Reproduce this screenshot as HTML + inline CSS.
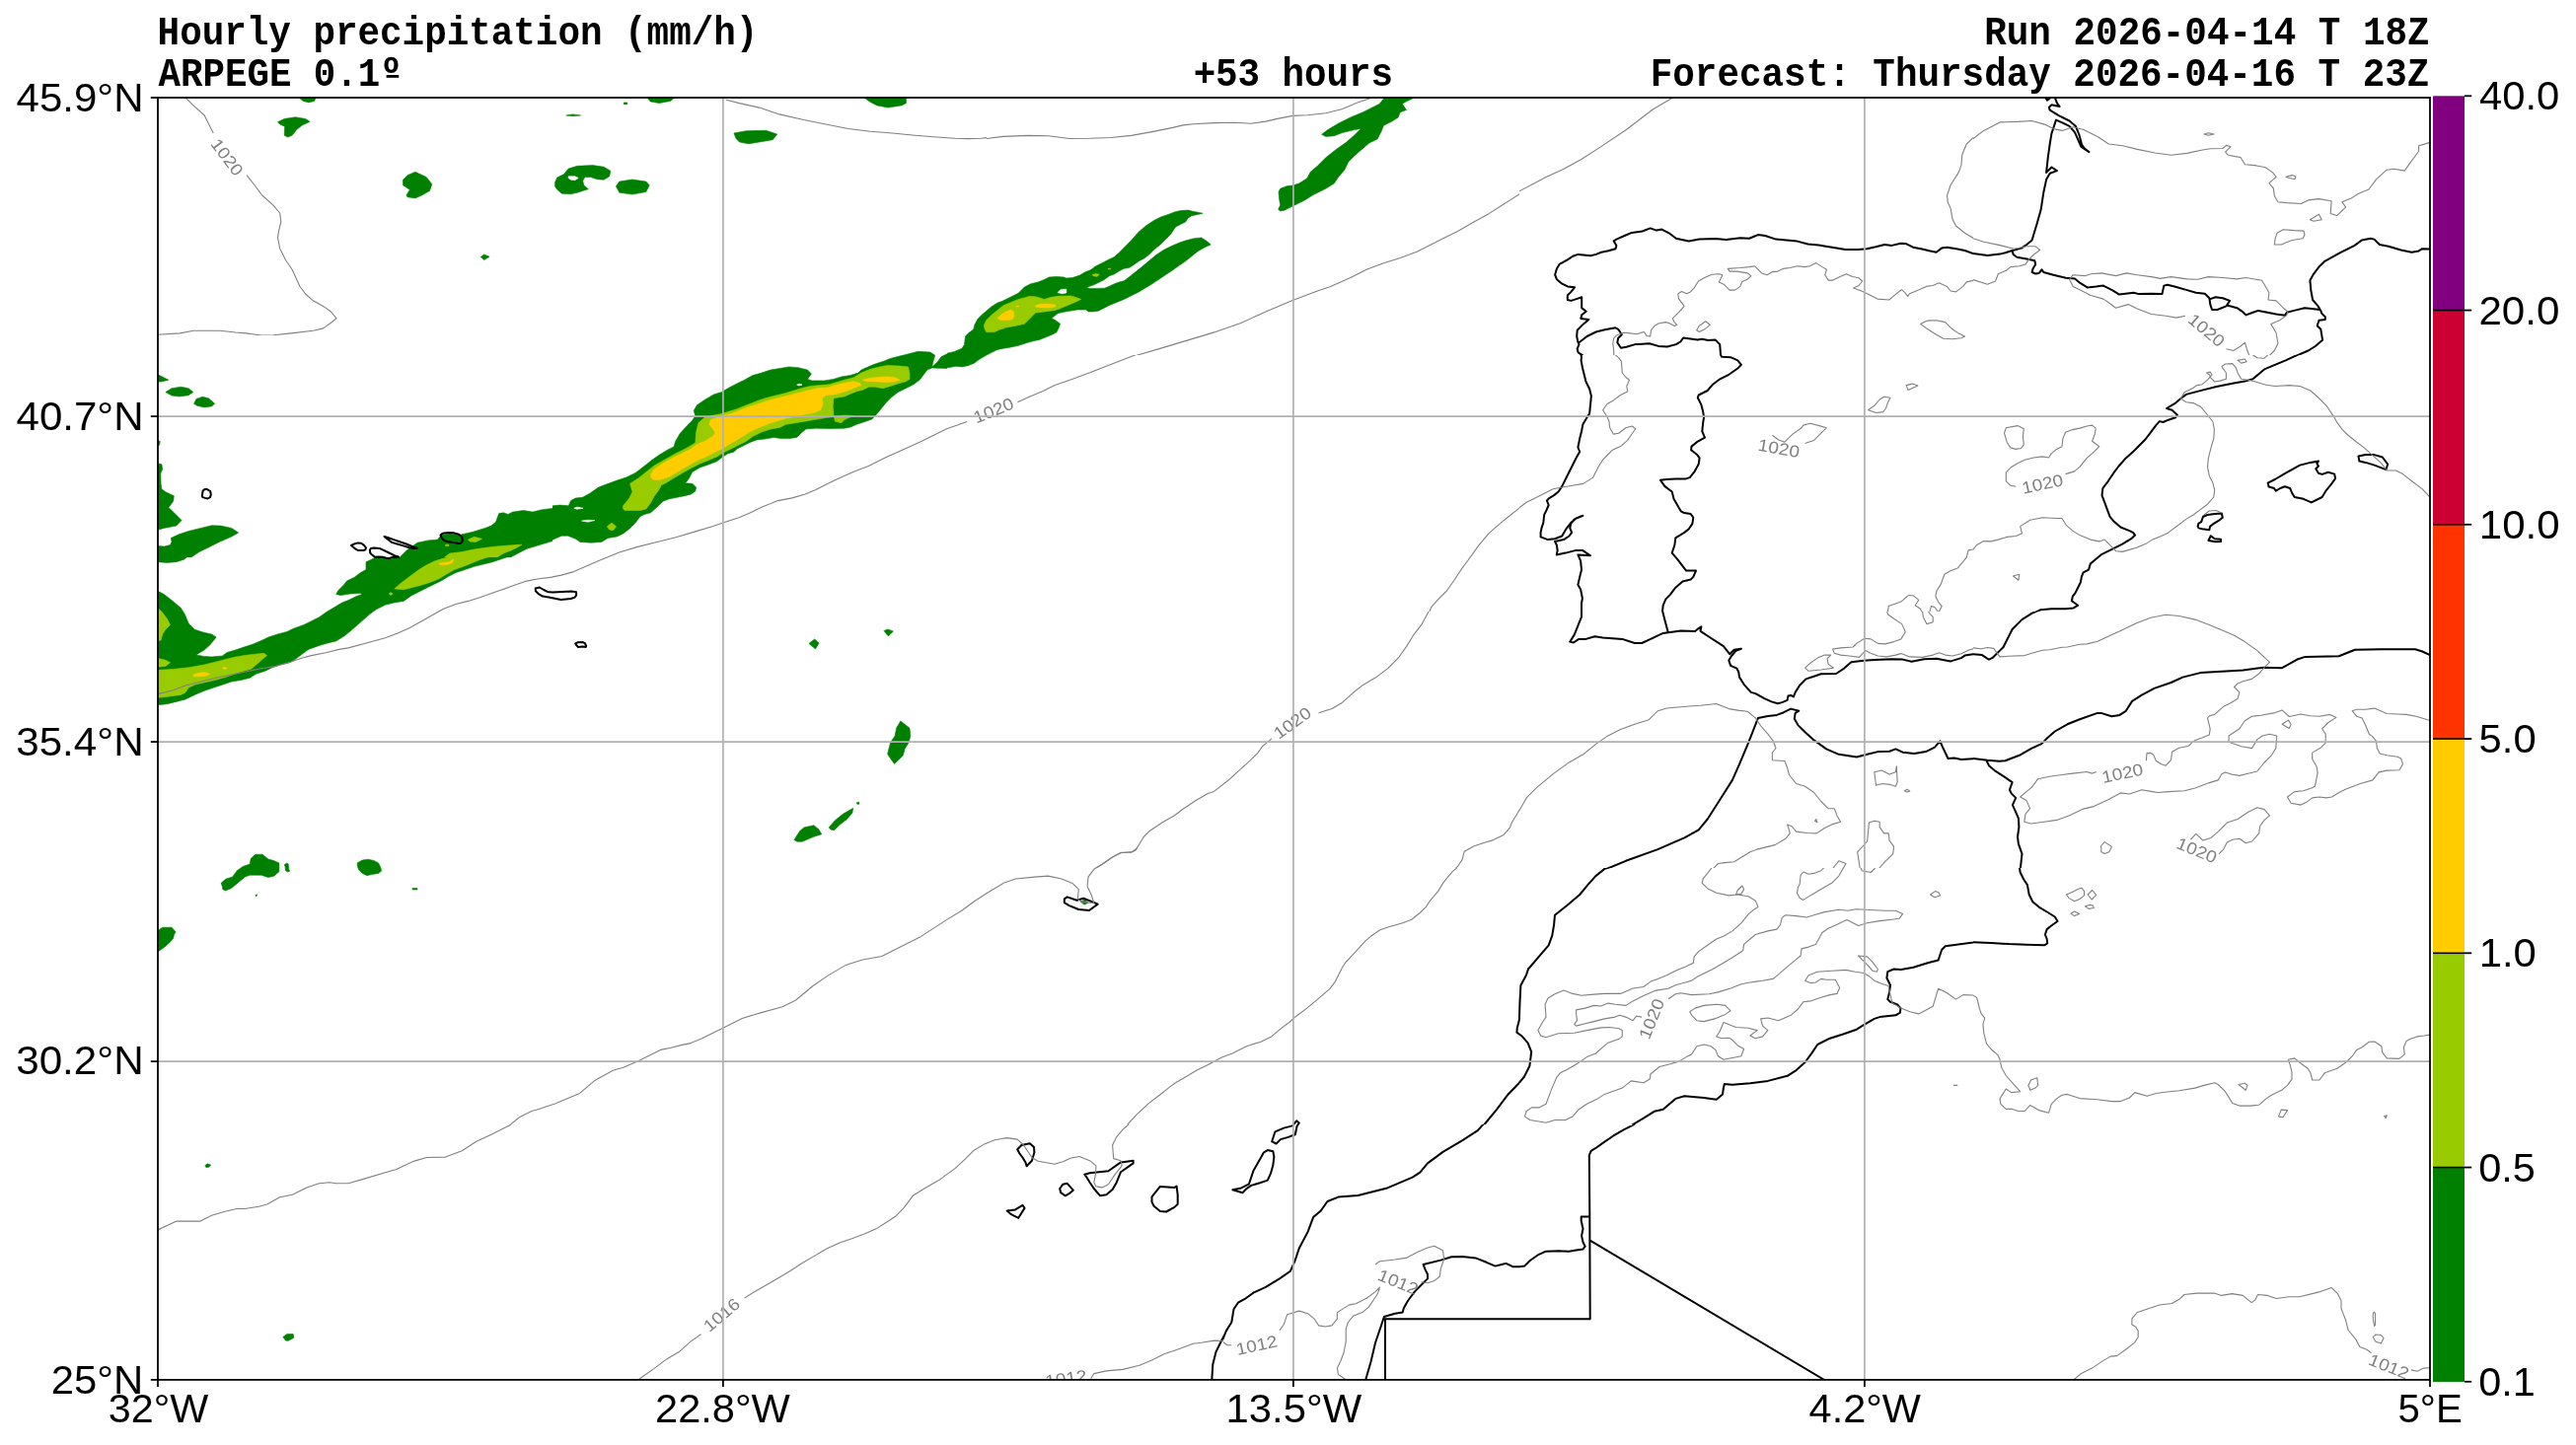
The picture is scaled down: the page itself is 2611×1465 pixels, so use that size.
<!DOCTYPE html>
<html><head><meta charset="utf-8"><title>Hourly precipitation</title>
<style>html,body{margin:0;padding:0;background:#fff;width:2611px;height:1465px;overflow:hidden}svg{display:block;will-change:transform}</style>
</head><body><svg xmlns="http://www.w3.org/2000/svg" width="2611" height="1465" viewBox="0 0 2611 1465"><defs><clipPath id="mc"><rect x="160.0" y="99.0" width="2303.0" height="1299.9"/></clipPath></defs><g clip-path="url(#mc)"><defs><clipPath id="pc0"><rect x="160" y="99" width="576" height="241"/></clipPath><clipPath id="pc1"><rect x="736" y="99" width="576" height="101"/><rect x="736" y="200" width="224" height="140"/><rect x="1240" y="200" width="72" height="140"/></clipPath><clipPath id="pc2"><rect x="1240" y="99" width="300" height="261"/></clipPath><clipPath id="pc3"><rect x="960" y="200" width="280" height="180"/></clipPath><clipPath id="pc4"><rect x="160" y="565" width="400" height="225"/></clipPath><clipPath id="pc5"><rect x="560" y="340" width="400" height="225"/></clipPath><clipPath id="pc6"><rect x="160" y="840" width="300" height="160"/></clipPath><clipPath id="pc7"><rect x="180" y="1150" width="140" height="220"/></clipPath><clipPath id="pc8"><rect x="160" y="340" width="400" height="225"/></clipPath><clipPath id="pc9"><rect x="1080" y="900" width="40" height="30"/></clipPath><clipPath id="pc10"><rect x="780" y="620" width="180" height="240"/></clipPath></defs><g clip-path="url(#pc0)"><path fill="#008000" stroke="#008000" stroke-width="0.6" d="M301.7,97.9 L320.8,97.9 L318.6,102.4 L312.9,103.9 L307.3,102.4Z M281.5,123.7 L288.2,120.4 L299.4,118.8 L309.6,120.4 L314.1,123.3 L306.2,127.1 L300.6,131.6 L296.1,137.2 L291.6,139.0 L288.2,137.2 L288.6,128.2 L283.7,126.0Z M408.5,182.2 L413.0,177.7 L420.9,174.3 L432.1,179.5 L437.8,186.7 L435.5,193.5 L427.6,198.0 L420.9,200.9 L413.0,199.8 L411.9,198.0 L415.3,192.3 L408.5,187.8Z M487.2,260.5 L490.6,258.0 L496.2,260.3 L490.6,263.6Z M562.6,184.5 L564.8,180.0 L571.6,176.6 L576.1,171.0 L585.1,168.3 L600.8,167.6 L612.1,169.2 L618.8,173.2 L617.7,178.8 L612.1,182.2 L605.3,181.8 L598.6,179.5 L593.0,179.5 L590.7,183.3 L591.8,187.8 L596.3,191.7 L590.7,193.5 L585.1,195.3 L578.3,196.8 L569.3,196.2 L564.8,192.3 L562.6,189.0Z M624.4,189.0 L627.8,184.0 L640.9,182.0 L654.8,184.0 L658.2,187.8 L654.8,194.6 L640.9,197.1 L627.8,195.3Z M654.8,97.9 L685.2,97.9 L679.5,102.4 L668.3,104.6 L659.3,103.0Z M573.8,117.0 L580.6,115.9 L588.5,117.0 L580.6,117.7Z M632.3,103.9 L635.7,103.9 L635.7,105.7 L632.3,105.7Z"/><path fill="#ffffff" stroke="#ffffff" stroke-width="0.6" d="M576.1,178.8 L582.8,178.8 L586.2,180.4 L582.8,182.7 L578.3,182.2 L576.1,180.4Z"/></g><g clip-path="url(#pc1)"><path fill="#008000" stroke="#008000" stroke-width="0.6" d="M874.3,97.9 L918.2,97.9 L918.6,104.6 L913.7,106.9 L900.2,109.1 L888.9,106.9 L882.2,103.5Z M743.9,135.0 L756.2,132.7 L776.5,132.3 L787.7,136.1 L783.2,141.7 L769.7,144.0 L758.5,145.8 L749.5,144.0 L746.1,140.6Z"/></g><g clip-path="url(#pc2)"><path fill="#008000" stroke="#008000" stroke-width="0.6" d="M1295.6,212.2 L1297.7,208.0 L1296.6,201.7 L1296.0,194.4 L1297.7,191.2 L1304.0,188.7 L1310.2,188.1 L1316.5,186.0 L1324.9,180.8 L1328.1,174.5 L1335.4,168.2 L1343.8,159.8 L1354.3,151.4 L1364.8,144.1 L1373.1,136.7 L1379.4,130.4 L1373.1,131.5 L1360.6,134.6 L1352.2,137.8 L1343.8,138.4 L1339.6,136.3 L1345.9,131.5 L1356.4,125.2 L1368.9,118.9 L1381.5,113.7 L1392.0,108.4 L1398.3,105.3 L1402.5,100.0 L1403.5,97.3 L1433.9,97.3 L1431.8,100.0 L1425.5,102.8 L1421.4,105.3 L1425.5,111.6 L1419.3,113.7 L1417.2,118.9 L1410.9,123.1 L1402.5,127.3 L1400.4,132.5 L1396.2,140.9 L1387.8,145.1 L1381.5,150.4 L1373.1,157.7 L1366.8,164.0 L1362.7,172.4 L1356.4,179.7 L1352.2,186.0 L1343.8,191.2 L1331.2,197.5 L1322.8,202.8 L1314.4,207.0 L1308.2,210.1 L1301.9,213.2 L1297.7,213.9Z"/></g><g clip-path="url(#pc3)"><path fill="#008000" stroke="#008000" stroke-width="0.6" d="M940.0,357.6 L943.7,358.2 L947.5,360.1 L946.2,365.7 L945.0,370.1 L949.3,369.4 L951.2,364.5 L955.0,360.7 L959.9,358.2 L967.4,356.4 L974.9,353.2 L977.4,349.5 L978.6,340.8 L982.4,337.0 L986.7,333.9 L988.0,328.9 L991.1,323.3 L994.8,319.6 L999.8,315.2 L1004.8,310.9 L1011.0,307.1 L1016.0,305.3 L1022.2,302.2 L1027.2,299.7 L1032.2,297.2 L1038.4,290.9 L1044.7,287.8 L1052.1,286.0 L1058.4,283.5 L1063.3,281.0 L1070.8,280.4 L1078.3,281.0 L1080.8,282.0 L1087.0,281.6 L1094.5,279.1 L1099.5,276.0 L1105.7,273.5 L1110.7,269.8 L1116.9,266.7 L1123.1,263.5 L1129.4,260.4 L1133.1,257.3 L1139.3,251.1 L1146.8,243.6 L1154.3,234.9 L1161.8,228.7 L1169.2,223.7 L1176.7,219.9 L1184.2,217.4 L1190.4,215.0 L1196.6,213.5 L1204.1,213.1 L1209.1,214.3 L1219.1,216.2 L1214.1,217.4 L1207.9,218.7 L1204.1,221.2 L1201.6,224.9 L1196.6,227.4 L1191.7,229.9 L1189.2,233.6 L1186.7,237.4 L1181.7,242.4 L1175.5,248.6 L1169.2,253.6 L1164.3,258.6 L1159.3,262.3 L1154.3,264.8 L1149.3,268.5 L1144.3,271.6 L1139.3,272.3 L1134.4,274.8 L1129.4,277.9 L1124.4,279.7 L1119.4,283.5 L1114.4,286.0 L1109.4,288.5 L1104.5,290.3 L1101.3,291.6 L1104.5,292.4 L1111.9,292.4 L1119.4,292.2 L1124.4,290.3 L1129.4,287.8 L1134.4,286.0 L1139.3,284.7 L1144.3,281.0 L1150.5,276.0 L1156.8,271.0 L1164.3,264.8 L1171.7,258.6 L1179.2,253.6 L1186.7,249.8 L1195.4,246.1 L1202.9,243.6 L1210.3,241.7 L1217.8,240.9 L1222.8,244.2 L1227.2,248.0 L1221.6,250.5 L1214.1,254.8 L1207.9,259.8 L1201.6,264.8 L1195.4,269.1 L1189.2,273.5 L1181.7,278.5 L1174.2,283.5 L1166.7,288.5 L1160.5,292.2 L1154.3,295.9 L1146.8,299.7 L1139.3,303.4 L1131.9,306.5 L1124.4,309.6 L1118.2,312.7 L1113.2,315.2 L1108.2,315.9 L1103.2,315.9 L1100.7,314.0 L1092.0,314.0 L1084.5,315.2 L1077.0,316.5 L1072.1,317.7 L1068.3,320.8 L1065.8,322.7 L1069.6,324.6 L1074.6,328.3 L1073.3,332.1 L1070.8,337.0 L1065.8,339.5 L1059.6,342.0 L1053.4,344.5 L1047.1,345.8 L1040.9,347.6 L1033.4,350.1 L1024.7,352.0 L1017.2,353.2 L1011.0,354.5 L1004.8,357.6 L998.6,360.7 L992.3,364.5 L987.3,368.2 L981.1,370.7 L974.9,371.9 L968.7,371.3 L962.4,372.5 L956.2,373.2 L948.7,373.8 L943.7,373.8 L940.0,376.9Z"/><path fill="#99cc00" stroke="#99cc00" stroke-width="0.6" d="M997.3,329.6 L999.8,324.6 L1004.8,319.6 L1011.0,314.6 L1017.2,309.6 L1024.7,306.5 L1032.2,303.4 L1039.7,301.5 L1043.4,300.3 L1050.9,300.9 L1058.4,303.4 L1064.6,301.5 L1072.1,300.3 L1085.8,299.9 L1090.7,301.5 L1095.7,303.4 L1089.5,306.5 L1082.0,309.6 L1074.6,312.7 L1069.6,314.4 L1059.6,315.9 L1049.6,317.1 L1044.7,322.1 L1038.4,328.3 L1029.7,330.2 L1019.7,332.1 L1012.3,334.6 L1008.5,336.4 L999.8,336.8 L997.9,333.3Z M1106.9,278.5 L1110.7,277.5 L1114.4,278.2 L1111.9,280.4 L1108.2,279.7Z M1123.1,272.3 L1125.6,272.0 L1125.6,272.9 L1123.1,272.9Z"/><path fill="#ffcc00" stroke="#ffcc00" stroke-width="0.6" d="M1011.0,322.7 L1014.8,319.0 L1019.7,315.9 L1024.7,314.0 L1027.2,315.9 L1027.8,320.8 L1026.0,324.0 L1019.7,324.6 L1014.8,324.6Z M1049.0,310.3 L1053.4,308.6 L1060.8,308.1 L1069.6,309.0 L1069.6,310.9 L1063.3,311.9 L1055.9,311.9 L1050.9,311.3Z M1029.7,310.6 L1032.8,310.3 L1032.2,311.1Z"/><path fill="#ffffff" stroke="#ffffff" stroke-width="0.6" d="M1072.1,296.6 L1075.2,293.4 L1080.8,293.2 L1080.8,296.9 L1076.4,297.8Z"/></g><g clip-path="url(#pc4)"><path fill="#008000" stroke="#008000" stroke-width="0.6" d="M158.4,563.4 L191.1,563.4 L186.5,567.3 L178.7,569.7 L169.3,570.4 L158.4,569.7Z M158.4,598.5 L166.2,602.4 L174.0,608.6 L183.4,616.4 L187.2,622.6 L191.1,632.0 L197.4,638.2 L206.7,641.3 L214.5,642.9 L219.2,646.0 L212.9,653.8 L206.7,659.2 L198.9,663.9 L206.7,665.4 L214.5,665.9 L225.4,665.0 L230.1,661.5 L237.9,659.2 L247.2,656.1 L256.5,653.0 L265.9,649.1 L272.1,646.0 L281.4,642.9 L290.8,640.5 L297.0,637.4 L307.9,633.5 L314.1,630.4 L323.5,625.7 L331.3,620.3 L339.1,615.6 L346.8,610.9 L353.1,608.6 L360.9,604.7 L367.1,602.4 L365.5,601.6 L354.6,602.1 L345.3,603.6 L340.6,602.4 L343.0,598.5 L348.4,593.0 L351.5,589.1 L359.3,585.2 L365.5,580.6 L371.0,577.5 L371.0,569.7 L378.0,566.6 L381.1,563.4 L518.1,563.4 L508.8,566.6 L499.4,569.7 L490.1,572.0 L480.7,574.3 L471.4,577.5 L462.1,580.6 L454.3,584.5 L448.0,588.4 L440.3,592.2 L432.5,596.1 L424.7,600.0 L416.9,603.9 L409.1,609.4 L399.8,610.9 L390.4,613.3 L381.1,617.9 L374.9,622.6 L368.6,628.1 L362.4,633.5 L356.2,639.0 L348.4,645.2 L340.6,649.9 L331.3,652.2 L323.5,654.5 L312.6,658.4 L306.4,663.1 L300.1,667.8 L293.9,671.7 L284.6,674.0 L275.2,677.1 L269.0,680.2 L259.6,683.3 L253.4,687.2 L244.1,689.6 L234.7,691.1 L225.4,694.2 L216.1,697.3 L206.7,700.5 L197.4,704.4 L188.0,709.0 L178.7,711.4 L169.3,713.7 L158.4,714.8Z"/><path fill="#99cc00" stroke="#99cc00" stroke-width="0.6" d="M158.4,614.8 L164.7,621.1 L169.3,627.3 L172.5,633.5 L167.8,638.2 L164.7,642.9 L163.1,649.1 L158.4,649.9Z M158.4,667.0 L167.8,669.3 L172.5,671.7 L167.8,675.5 L158.4,676.3Z M158.4,679.4 L175.6,678.4 L191.1,676.8 L206.7,674.0 L219.2,670.9 L228.5,668.5 L237.9,666.2 L247.2,664.6 L256.5,663.4 L267.4,662.3 L270.5,664.6 L265.9,668.5 L259.6,674.0 L255.0,677.9 L247.2,680.2 L237.9,683.3 L228.5,686.4 L217.6,689.6 L206.7,691.9 L197.4,694.2 L191.1,697.3 L188.0,702.0 L183.4,704.4 L172.5,705.9 L158.4,707.5Z M399.8,596.9 L406.0,591.5 L412.2,586.8 L418.5,582.1 L424.7,577.5 L432.5,572.8 L440.3,568.9 L448.0,566.6 L458.9,563.4 L499.4,563.4 L487.0,567.3 L479.2,570.4 L469.8,574.3 L460.5,577.5 L452.7,582.1 L444.9,586.8 L437.2,589.9 L427.8,593.0 L418.5,595.4 L409.1,597.7Z M394.3,602.1 L395.9,600.5 L398.2,602.1 L395.9,603.6Z"/><path fill="#ffcc00" stroke="#ffcc00" stroke-width="0.6" d="M195.8,684.1 L200.5,682.6 L206.7,681.5 L212.9,683.3 L208.3,685.2 L200.5,685.7 L196.6,686.1Z M225.4,677.1 L228.5,676.3 L230.1,677.9 L227.0,678.2Z M444.9,571.2 L449.6,570.4 L455.8,569.7 L459.7,566.6 L458.9,570.4 L452.7,572.5 L446.5,572.8Z"/></g><g clip-path="url(#pc5)"><path fill="#008000" stroke="#008000" stroke-width="0.6" d="M560.0,512.8 L567.8,512.1 L576.3,512.8 L578.7,507.4 L583.4,505.0 L590.4,504.3 L597.4,500.4 L606.7,494.1 L614.5,491.0 L625.4,487.1 L634.7,484.0 L644.1,479.4 L653.4,472.3 L661.2,466.1 L669.0,460.7 L676.8,456.0 L683.0,452.9 L684.6,447.4 L689.2,439.6 L695.5,432.6 L700.9,427.2 L704.8,421.7 L703.2,416.3 L706.4,410.8 L714.1,405.4 L723.5,399.9 L731.3,397.6 L739.1,392.9 L746.8,389.0 L754.6,385.2 L762.4,380.8 L771.8,378.1 L781.1,375.0 L790.4,373.5 L799.8,371.9 L809.1,372.7 L818.5,375.0 L822.4,378.9 L818.5,384.4 L823.1,385.9 L835.6,385.9 L844.9,384.4 L852.7,382.0 L862.1,380.5 L869.8,378.1 L873.0,375.0 L885.4,369.6 L894.8,366.5 L902.5,363.4 L911.9,361.0 L921.2,358.7 L930.6,356.3 L943.0,357.1 L947.7,360.2 L946.1,365.7 L944.6,371.9 L950.0,367.2 L953.9,361.8 L961.7,357.9 L961.7,373.6 L944.6,373.0 L939.9,375.0 L936.8,378.9 L932.1,385.2 L925.9,389.8 L918.1,393.7 L910.3,397.6 L904.1,402.3 L897.9,408.5 L891.6,416.3 L887.0,421.7 L883.9,424.9 L877.6,427.2 L868.3,430.3 L862.1,433.1 L855.8,434.2 L840.3,434.5 L826.3,434.2 L816.9,435.0 L812.2,438.9 L807.6,443.5 L799.8,444.6 L792.0,444.6 L784.2,443.5 L774.9,445.1 L767.1,445.9 L760.9,448.2 L754.6,451.3 L746.8,455.2 L743.7,458.3 L737.5,459.9 L732.8,463.0 L726.6,467.7 L718.8,470.8 L709.5,473.9 L701.7,478.6 L698.6,484.8 L694.7,489.8 L701.7,490.3 L705.6,494.1 L704.8,498.0 L700.1,501.2 L693.9,502.7 L686.1,504.3 L678.3,505.8 L672.1,508.2 L667.4,512.8 L659.6,519.8 L653.4,521.4 L648.8,523.7 L644.1,530.0 L637.9,536.2 L631.6,540.9 L625.4,544.0 L616.1,545.5 L609.8,549.4 L598.9,550.2 L588.0,549.4 L583.4,546.3 L575.6,543.2 L569.3,543.2 L558.4,547.9Z"/><path fill="#99cc00" stroke="#99cc00" stroke-width="0.6" d="M631.6,512.8 L637.9,505.0 L641.0,498.8 L638.6,490.3 L647.2,484.8 L655.0,478.6 L662.8,472.3 L672.1,466.9 L684.6,459.9 L695.5,454.4 L704.8,449.0 L705.6,438.1 L707.9,428.8 L714.1,423.3 L723.5,421.0 L731.3,419.4 L739.1,417.1 L746.8,414.7 L754.6,411.6 L762.4,408.5 L770.2,405.4 L778.0,403.1 L787.3,400.7 L796.7,398.4 L804.5,396.1 L812.2,393.7 L821.6,391.4 L830.9,390.6 L840.3,389.8 L848.0,387.5 L855.8,385.2 L865.2,382.8 L873.0,378.1 L882.3,374.3 L891.6,371.9 L899.4,370.4 L911.9,371.1 L920.5,371.9 L922.0,378.9 L922.0,384.4 L918.1,386.7 L910.3,389.0 L902.5,391.4 L894.8,393.7 L887.0,392.2 L880.7,392.2 L874.5,395.3 L868.3,396.8 L862.1,399.2 L855.8,402.0 L844.9,403.8 L844.2,411.6 L844.9,421.0 L846.5,427.2 L852.7,428.8 L855.8,425.6 L858.9,424.1 L865.2,421.7 L855.8,421.0 L846.5,422.5 L838.7,423.3 L834.0,424.1 L824.7,425.6 L815.4,427.2 L806.0,428.8 L796.7,430.3 L790.4,433.4 L781.1,435.0 L771.8,438.1 L762.4,442.8 L756.2,447.4 L750.0,450.5 L740.6,455.2 L734.4,458.3 L726.6,463.0 L717.3,466.9 L709.5,470.0 L700.1,474.7 L690.8,480.1 L681.4,485.6 L675.2,489.5 L670.5,491.8 L667.4,497.3 L662.8,503.5 L659.6,509.7 L655.0,515.9 L648.8,517.5 L641.0,517.5 L633.2,517.5 L631.3,515.2Z M615.3,533.8 L619.9,530.0 L624.6,533.8 L621.5,537.7 L617.6,537.0Z"/><path fill="#ffcc00" stroke="#ffcc00" stroke-width="0.6" d="M659.6,480.9 L662.8,476.2 L669.0,471.6 L678.3,466.1 L689.2,460.7 L700.1,455.2 L706.4,450.5 L714.1,447.4 L721.9,442.8 L725.0,438.9 L722.7,435.0 L718.8,430.3 L720.4,425.6 L726.6,423.3 L734.4,421.0 L743.7,418.6 L753.1,414.7 L762.4,411.6 L771.8,408.5 L781.1,405.4 L790.4,403.1 L799.8,400.7 L809.1,398.4 L818.5,396.1 L827.8,393.7 L838.7,392.9 L846.5,390.6 L855.8,388.3 L865.2,386.7 L871.4,388.3 L873.0,390.6 L866.7,392.9 L858.9,396.1 L851.2,398.4 L844.9,399.9 L837.2,400.7 L833.3,403.8 L834.0,410.1 L831.7,415.5 L824.7,418.6 L815.4,420.2 L806.0,422.5 L796.7,424.1 L788.9,426.4 L781.1,428.8 L773.3,431.9 L765.5,435.0 L759.3,438.1 L754.6,441.2 L746.8,445.9 L739.1,450.5 L731.3,455.2 L725.0,458.3 L715.7,463.0 L706.4,466.9 L697.0,472.3 L687.7,477.8 L678.3,483.2 L669.0,486.4 L662.8,486.4 L659.6,484.0Z M874.5,385.2 L880.7,383.6 L890.1,382.4 L899.4,382.0 L907.2,382.8 L911.9,385.2 L907.2,386.7 L897.9,387.5 L887.0,386.7 L877.6,386.4Z"/><path fill="#ffffff" stroke="#ffffff" stroke-width="0.6" d="M581.8,515.2 L584.9,514.1 L591.1,515.2 L584.9,516.3Z M589.6,528.1 L595.8,527.2 L602.8,527.6 L595.8,529.2Z M807.6,390.1 L810.7,389.2 L813.0,390.1 L809.9,390.9Z"/></g><g clip-path="url(#pc6)"><path fill="#008000" stroke="#008000" stroke-width="0.6" d="M224.1,895.3 L228.7,891.2 L235.7,888.9 L240.4,882.5 L246.2,878.4 L253.2,876.1 L254.3,870.3 L259.0,866.2 L266.0,866.2 L271.8,870.9 L277.6,872.6 L282.9,874.9 L282.9,883.7 L277.6,888.3 L271.8,889.5 L264.8,887.2 L253.2,887.2 L248.5,888.9 L241.5,894.7 L234.5,900.6 L228.7,902.9 L225.8,901.7 L225.2,898.2Z M288.1,876.7 L291.0,874.9 L292.2,876.1 L292.8,881.9 L293.9,883.1 L291.6,884.0 L289.3,882.5 L289.0,878.4Z M362.1,874.9 L367.3,872.0 L373.1,871.2 L378.9,872.4 L383.6,874.9 L385.9,879.6 L386.5,883.1 L383.6,885.4 L376.6,886.6 L372.0,887.7 L367.3,885.4 L363.8,881.9 L362.4,878.4Z M418.0,900.6 L423.0,900.6 L423.0,902.0 L418.0,902.0Z M258.8,907.8 L260.7,906.8 L259.9,908.9Z M158.8,944.2 L164.7,940.2 L174.0,940.2 L178.1,944.8 L176.3,947.7 L175.7,951.2 L172.8,954.7 L167.0,960.0 L158.8,965.8Z"/></g><g clip-path="url(#pc7)"><path fill="#008000" stroke="#008000" stroke-width="0.6" d="M207.8,1181.7 L210.4,1179.8 L213.8,1181.2 L211.2,1183.5 L208.9,1183.5Z M286.8,1355.4 L291.1,1352.4 L297.2,1352.4 L297.9,1356.2 L292.6,1359.2 L289.6,1359.2Z"/></g><g clip-path="url(#pc8)"><path fill="#008000" stroke="#008000" stroke-width="0.6" d="M158.4,378.9 L170.9,385.2 L164.7,386.7 L158.4,387.5Z M167.8,397.6 L174.0,393.7 L183.4,392.2 L191.1,393.7 L195.8,397.6 L191.1,400.7 L181.8,402.0 L174.0,401.0Z M196.6,409.3 L198.9,404.6 L205.2,402.3 L211.4,403.8 L217.6,409.3 L214.5,411.9 L206.7,412.9 L199.7,411.3Z M158.4,445.9 L162.3,447.4 L161.6,451.3 L158.4,452.1Z M158.4,469.2 L163.9,470.8 L164.7,475.5 L162.8,480.1 L163.1,491.0 L163.9,495.7 L167.8,498.8 L176.3,502.7 L175.6,508.2 L170.9,514.4 L177.1,520.6 L184.1,527.6 L178.7,533.1 L166.2,535.4 L158.4,537.7Z M158.4,553.3 L166.2,554.1 L172.5,552.5 L174.0,549.4 L173.2,545.5 L181.8,541.6 L191.1,538.5 L203.6,535.4 L214.5,532.8 L223.8,533.1 L234.7,535.4 L241.7,540.1 L234.7,544.0 L222.3,549.4 L211.4,554.9 L202.0,559.5 L192.7,565.8 L158.4,565.8Z M404.5,565.8 L412.2,558.0 L423.1,550.2 L434.0,547.9 L443.4,547.1 L447.3,542.4 L455.8,540.9 L465.2,542.4 L479.2,539.3 L491.6,535.4 L497.9,533.1 L502.5,529.2 L505.7,520.6 L510.3,519.8 L515.0,521.4 L519.7,519.1 L530.6,517.5 L539.9,519.1 L549.3,516.7 L561.7,515.2 L561.7,548.0 L533.7,556.4 L515.9,565.8Z"/><path fill="#99cc00" stroke="#99cc00" stroke-width="0.6" d="M474.5,547.1 L480.7,544.3 L488.5,546.3 L482.3,549.4 L476.1,549.0Z M449.6,565.8 L455.8,561.1 L468.3,559.5 L479.2,557.2 L490.1,555.6 L502.5,554.1 L515.0,553.0 L529.0,552.1 L524.3,554.9 L518.1,558.0 L510.3,561.1 L502.5,565.8Z M451.2,552.5 L454.3,551.8 L455.1,553.3 L451.9,553.8Z"/></g><g clip-path="url(#pc9)"><path fill="#008000" stroke="#008000" stroke-width="0.6" d="M1095.3,914.3 L1099.2,911.9 L1103.0,915.2 L1099.2,917.2Z"/></g><g clip-path="url(#pc10)"><path fill="#008000" stroke="#008000" stroke-width="0.6" d="M819.9,652.4 L825.7,647.9 L830.1,651.9 L826.5,657.9Z M895.9,639.6 L899.6,637.9 L905.4,639.9 L900.4,644.9Z M899.6,764.5 L902.5,752.8 L907.0,746.2 L908.7,737.9 L912.8,730.9 L922.0,738.2 L922.8,746.2 L921.1,752.8 L917.0,759.5 L915.3,766.1 L906.5,774.4 L902.9,769.4Z M840.1,838.9 L846.4,831.7 L854.7,825.1 L864.7,819.3 L863.9,824.2 L858.0,830.9 L851.4,835.9 L845.6,841.7 L842.3,841.2Z M804.9,851.6 L810.7,842.5 L814.9,838.9 L824.8,836.7 L829.8,840.8 L832.8,845.8 L824.8,848.3 L813.2,853.3 L808.2,853.3Z M868.0,813.9 L870.5,813.1 L871.0,815.1 L869.3,815.6Z"/></g><g fill="none" stroke="#000" stroke-width="2" stroke-linejoin="round" stroke-linecap="round"><g clip-path="url(#cc0)"><path d="M2002.3,257.6 L2000.0,257.0 L1991.5,254.0 L1984.3,252.5 L1973.5,250.7 L1968.0,251.6 L1962.6,255.8 L1955.4,254.3 L1948.2,252.5 L1939.1,250.7 L1931.9,247.1 L1926.5,246.7 L1917.5,248.9 L1910.2,248.0 L1901.2,250.3 L1892.2,252.2 L1883.1,253.1 L1870.5,253.1 L1861.5,251.6 L1850.6,249.8 L1843.4,248.5 L1832.6,247.5 L1821.7,244.6 L1810.9,243.5 L1800.1,242.6 L1789.2,239.0 L1782.0,238.1 L1773.0,241.7 L1763.9,241.3 L1749.5,242.9 L1738.7,242.0 L1722.4,242.6 L1711.6,244.4 L1698.9,241.7 L1691.7,236.3 L1684.5,232.6 L1679.1,233.6 L1672.7,231.4 L1664.6,234.5 L1653.8,235.9 L1646.6,239.0 L1638.4,242.6 L1635.7,244.4 L1638.4,248.9 L1637.5,252.2 L1630.3,254.3 L1623.1,255.8 L1617.7,257.9 L1612.2,259.2 L1599.6,257.9 L1594.2,259.7 L1588.8,263.4 L1580.6,267.9 L1577.9,272.4 L1576.1,278.7 L1577.9,283.2 L1583.3,287.7 L1588.8,290.4 L1596.0,291.3 L1592.4,295.9 L1588.8,299.5 L1588.8,304.0 L1592.4,304.9 L1597.8,303.1 L1603.2,301.3 L1603.2,306.7 L1603.2,312.1 L1607.7,315.7 L1603.2,319.3 L1602.3,322.9 L1610.4,323.9 L1605.0,328.4 L1598.7,334.7 L1598.2,341.0 L1599.2,346.1 L1600.5,349.1 L1598.7,353.7 L1599.6,357.3 L1605.0,360.9 M1600.5,347.3 L1608.6,341.0 L1617.7,336.5 L1626.7,334.3 L1637.5,332.3 L1640.2,333.8 L1643.8,339.2 L1640.2,342.8 L1639.3,347.3 L1642.9,352.7 L1648.4,351.8 L1657.4,349.1 L1661.0,349.1 L1671.8,348.2 L1680.9,350.9 L1689.9,351.5 L1698.9,349.1 L1703.4,346.4 L1706.2,342.5 L1720.6,344.6 L1725.1,343.7 L1731.4,345.0 L1738.7,344.6 L1743.2,349.1 L1744.1,360.9"/></g><g clip-path="url(#cc1)"><path d="M2072.3,97.2 L2075.0,101.7 L2077.3,99.9 L2078.8,97.2 M2082.2,97.2 L2084.9,104.4 L2087.6,108.0 L2079.5,106.2 L2076.8,108.9 L2077.7,111.6 L2086.7,117.1 L2097.5,122.5 L2103.9,127.9 L2107.5,136.9 L2110.2,146.9 L2112.9,150.5 L2117.4,154.1 L2109.3,148.7 L2106.6,142.4 L2103.0,134.2 L2097.5,127.9 L2090.3,124.3 L2084.0,121.6 L2079.5,135.1 L2077.7,146.0 L2075.9,158.6 L2074.1,174.9 L2079.5,169.5 L2084.9,173.1 L2077.7,175.8 L2074.1,182.1 L2071.4,194.7 L2068.6,212.8 L2065.0,225.5 L2059.6,243.5 L2054.2,248.0 L2048.8,251.6 L2039.7,254.0 L2032.5,256.2 L2027.1,257.6 L2014.5,258.9 L2000.0,257.1 L1998.2,256.9 M2039.7,254.0 L2040.6,258.0 L2044.3,260.7 L2054.2,262.5 L2062.3,264.3 L2063.2,267.9 L2060.5,272.4 L2059.6,276.0 L2063.2,277.5 L2066.8,276.9 L2069.5,273.3 L2071.4,276.0 L2081.3,278.7 L2093.9,281.8 L2103.0,282.4 L2108.4,286.9 L2115.6,291.4 L2124.6,290.5 L2131.9,289.6 L2140.9,294.1 L2148.1,298.6 L2162.6,296.8 L2168.0,298.1 L2180.6,297.7 L2191.5,298.1 L2193.3,289.6 L2196.9,288.7 L2204.1,290.5 L2216.8,294.1 L2225.8,296.8 L2234.8,297.7 L2239.4,302.2 L2240.3,308.6 L2242.1,314.0 L2247.5,314.0 L2256.5,310.4 L2260.1,304.9 L2252.9,302.2 L2245.7,301.3 L2240.3,303.1 M2257.4,309.5 L2267.4,312.2 L2272.8,315.8 L2276.4,319.4 L2283.6,316.7 L2289.0,314.9 L2298.1,316.7 L2307.1,318.5 L2316.1,319.8 L2317.9,316.7 L2325.2,314.9 L2336.0,312.2 L2343.2,313.1 L2351.4,314.0 M2465.2,252.6 L2455.2,252.2 L2451.6,254.4 L2444.4,255.8 L2433.6,253.5 L2420.9,249.8 L2411.9,248.0 L2406.5,242.6 L2402.8,241.7 L2393.8,243.5 L2386.6,248.9 L2372.1,256.2 L2355.9,265.2 L2350.5,270.6 L2345.0,277.8 L2341.4,284.2 L2342.3,294.1 L2344.1,304.0 L2349.6,310.4 L2352.3,314.9 L2353.2,317.6 L2356.8,321.2 L2356.8,323.9 L2350.5,324.8 L2348.7,330.2 L2352.3,333.8 L2353.2,339.3 L2354.1,344.7 L2346.8,351.0 L2339.6,355.5 L2327.0,360.9"/></g><g clip-path="url(#cc2)"><path d="M1602.1,358.2 L1603.0,361.8 L1602.6,365.4 L1603.9,372.6 L1605.7,379.8 L1607.5,387.0 L1611.1,394.2 L1612.9,401.4 L1612.0,410.4 L1611.1,419.4 L1609.3,422.1 L1606.6,426.6 L1604.4,430.2 L1603.0,437.4 L1601.2,444.6 L1599.4,453.5 L1601.2,458.0 L1597.6,464.3 L1594.0,471.5 L1588.6,482.3 L1583.2,493.1 L1579.6,498.5 L1575.1,502.1 L1570.6,504.8 L1567.9,507.5 L1569.7,512.0 L1567.0,518.3 L1565.2,521.9 L1564.3,530.0 L1562.5,535.4 L1561.6,539.9 L1561.6,544.4 L1568.8,547.1 L1576.0,546.2 L1583.2,543.5 L1586.8,537.2 L1592.2,530.0 L1597.6,525.5 L1604.4,522.8 L1595.8,526.4 L1592.2,530.9 L1591.3,535.4 L1593.1,539.9 L1590.4,543.5 L1585.0,547.1 L1576.0,548.9 L1577.8,552.5 L1578.7,557.9 L1577.8,562.4 L1586.8,560.6 L1597.6,557.9 L1603.9,557.9 L1612.0,563.3 L1599.4,562.4 L1602.1,568.7 L1603.0,577.7 L1601.2,584.9 L1599.4,593.0 L1602.1,597.5 L1603.9,606.5 L1603.0,611.9 L1603.0,621.8 M1743.3,358.2 L1745.1,361.8 L1754.1,362.2 L1761.3,365.4 L1764.9,369.9 L1761.3,373.5 L1752.3,379.8 L1743.3,384.3 L1736.1,389.7 L1730.7,396.0 L1721.7,400.5 L1720.8,403.2 L1724.4,410.4 L1726.2,417.6 L1727.1,423.0 L1726.2,428.4 L1725.3,437.4 L1728.0,443.7 L1719.9,448.2 L1714.5,452.6 L1714.1,456.2 L1719.9,460.7 L1722.6,464.3 L1721.7,470.6 L1717.2,478.7 L1712.7,484.1 L1708.2,485.6 L1698.3,485.6 L1689.3,485.9 L1683.0,486.8 L1687.5,493.1 L1694.7,498.5 L1696.5,505.7 L1703.7,518.3 L1707.3,520.1 L1713.6,521.0 L1716.3,524.6 L1715.4,530.9 L1711.8,536.3 L1707.3,539.9 L1698.3,545.3 L1697.4,552.5 L1694.7,560.6 L1700.1,566.9 L1709.1,578.6 L1719.0,578.6 L1716.3,584.9 L1713.6,587.6 L1705.5,589.4 L1698.3,595.7 L1692.9,602.9 L1688.4,607.4 L1685.7,613.7 L1684.8,621.8"/></g><g clip-path="url(#cc3)"><path d="M2332.9,358.2 L2330.2,359.1 L2316.7,365.4 L2305.9,369.9 L2295.1,374.4 L2289.7,378.9 L2283.4,384.3 L2275.3,386.6 L2262.7,388.8 L2246.5,392.0 L2232.1,395.6 L2215.9,399.9 L2211.4,403.2 L2205.1,408.6 L2196.1,414.0 L2201.5,415.8 L2206.9,420.8 L2205.1,423.3 L2197.9,425.7 L2192.5,428.0 L2188.9,427.1 L2185.3,431.1 L2179.9,438.3 L2174.5,445.5 L2167.3,452.7 L2162.0,458.1 L2154.8,464.4 L2147.6,472.5 L2142.2,479.7 L2136.8,487.8 L2131.4,495.0 L2130.5,502.2 L2133.2,509.4 L2135.9,516.6 L2138.6,523.8 L2142.2,528.2 L2149.4,534.5 L2158.4,538.1 L2162.0,539.9 L2164.1,542.6 L2160.2,546.2 L2151.2,551.6 L2142.2,556.1 L2129.6,562.4 L2124.2,566.9 L2118.8,571.4 L2117.0,577.7 L2111.6,580.4 L2109.8,584.9 L2108.9,590.3 L2106.2,595.7 L2103.5,601.1 L2100.8,604.7 L2099.9,609.2 L2106.2,613.7 L2101.7,616.4 L2093.6,617.3 L2079.2,617.3 L2068.4,618.2 L2063.0,620.9 L2059.4,622.7 M2298.7,489.6 L2305.9,486.0 L2316.7,479.7 L2331.1,471.6 L2341.9,468.9 L2350.0,467.6 L2348.2,469.8 L2350.0,472.5 L2347.3,475.2 L2350.0,479.7 L2353.6,480.9 L2359.9,478.8 L2366.2,480.6 L2367.1,485.1 L2362.6,491.4 L2358.1,496.8 L2353.6,504.0 L2342.8,509.4 L2334.7,505.8 L2325.7,504.0 L2323.0,499.5 L2321.2,495.0 L2315.8,493.2 L2311.3,495.0 L2306.8,497.7 L2305.0,495.0 L2299.6,493.5Z M2390.5,462.6 L2397.7,461.1 L2406.7,461.1 L2414.8,463.5 L2420.2,470.7 L2418.4,476.1 L2406.7,471.6 L2397.7,468.9 L2391.4,467.6Z M2227.6,533.6 L2228.5,530.6 L2231.2,529.1 L2233.0,523.8 L2237.5,522.0 L2244.7,521.1 L2251.9,520.5 L2252.8,524.7 L2248.3,528.2 L2243.8,530.9 L2240.2,533.6 L2239.3,537.2 L2232.1,536.3 L2228.5,535.4Z M2238.4,548.0 L2240.8,543.2 L2244.7,546.2 L2251.0,546.8 L2251.0,548.9 L2245.6,549.3Z"/></g><g clip-path="url(#cc4)"><path d="M1603.0,618.2 L1603.0,625.4 L1599.4,634.4 L1595.8,643.4 L1591.3,650.6 L1594.9,651.5 L1600.3,647.9 L1607.5,647.9 L1616.5,645.2 L1624.6,646.6 L1644.3,647.9 L1656.9,652.0 L1664.1,652.0 L1673.1,647.9 L1685.7,641.9 L1691.1,641.2 L1703.7,639.4 L1718.1,640.1 L1721.7,637.1 L1724.4,635.3 L1723.5,639.8 L1734.3,647.0 L1746.9,655.1 L1753.2,663.2 L1757.7,658.7 L1764.9,657.8 L1759.5,659.9 L1755.0,665.0 L1752.3,669.5 L1754.1,674.9 L1760.4,677.6 L1762.2,681.2 L1763.1,686.6 L1767.6,693.8 L1774.8,701.9 L1779.3,703.1 L1788.3,708.2 L1795.5,711.4 L1801.8,713.2 L1806.2,712.1 L1811.6,709.9 L1812.5,705.5 L1815.2,704.9 L1817.9,706.4 L1819.7,701.9 L1824.2,694.7 L1830.5,688.4 L1838.6,685.7 L1845.8,683.3 L1861.1,683.0 L1869.2,677.6 L1876.4,671.3 L1889.0,669.8 L1899.8,668.9 L1917.8,668.2 L1928.6,668.6 L1937.6,670.7 L1950.2,668.2 L1962.8,667.7 L1977.2,670.4 L1987.9,667.1 L1991.5,664.6 L2000.0,663.2 L2003.2,662.8 M1684.8,618.2 L1687.5,629.0 L1690.8,641.2 M1626.4,881.8 L1630.8,880.0 L1647.9,872.8 L1680.3,861.1 L1707.3,849.4 L1721.7,841.3 L1730.7,830.5 L1743.3,810.7 L1755.9,790.9 L1763.1,774.7 L1772.1,753.1 L1782.0,727.9 L1791.9,726.1 L1800.9,724.9 L1808.0,722.2 L1815.2,718.6 L1823.3,720.7 L1819.7,722.9 L1818.8,728.8 L1822.4,735.1 L1829.6,742.3 L1838.6,750.4 L1851.2,759.4 L1863.8,764.8 L1881.8,767.5 L1892.6,764.8 L1903.4,762.1 L1915.1,761.8 L1921.4,759.4 L1928.6,762.7 L1940.3,763.9 L1952.0,762.1 L1961.0,757.6 L1966.4,751.3 L1969.1,757.6 L1974.5,769.0 L1980.8,768.4 L1987.9,769.9 L2000.0,769.3 L2003.2,769.3"/></g><g clip-path="url(#cc5)"><path d="M2068.4,618.2 L2065.7,619.1 L2059.4,621.8 L2049.5,628.1 L2039.6,638.0 L2035.1,647.0 L2030.6,656.0 L2025.2,661.4 L2019.8,666.8 L2015.8,668.6 L2009.0,664.1 L2000.0,663.2 L1998.2,663.2 M1998.2,769.0 L2000.0,769.0 L2014.4,770.8 L2026.1,771.7 L2032.4,771.2 L2046.8,765.8 L2059.4,758.6 L2069.3,754.1 L2075.6,747.8 L2082.8,741.5 L2095.4,734.3 L2108.0,729.2 L2126.0,722.9 L2129.6,722.9 L2140.4,726.2 L2148.5,724.9 L2154.8,720.8 L2161.1,710.9 L2170.9,704.6 L2183.5,697.9 L2200.6,692.0 L2212.3,686.6 L2230.3,682.1 L2251.9,680.8 L2273.5,679.4 L2295.1,676.7 L2313.1,677.2 L2329.3,668.2 L2336.5,665.9 L2370.7,665.3 L2386.9,658.7 L2413.9,658.3 L2448.1,658.3 L2455.3,660.5 L2463.0,664.1 L2465.2,665.0 M2013.5,771.2 L2016.2,776.6 L2021.6,781.1 L2032.4,788.2 L2039.6,793.1 L2036.9,800.8 L2038.7,804.4 L2043.2,808.9 L2039.9,816.1 L2043.2,823.3 L2045.9,829.6 L2046.4,838.6 L2045.0,848.5 L2045.9,855.7 L2049.5,865.6 L2047.7,881.8"/></g><g clip-path="url(#cc6)"><path d="M1635.3,878.2 L1632.6,879.1 L1626.4,880.9 L1617.4,888.1 L1610.2,896.2 L1601.2,907.0 L1588.6,917.8 L1576.0,927.7 L1575.1,937.6 L1573.3,948.4 L1569.7,958.3 L1559.8,969.9 L1549.0,982.5 M2002.3,955.2 L2000.0,955.6 L1971.8,959.2 L1968.2,962.8 L1964.6,973.5 L1953.8,976.2 L1939.4,980.7 L1926.8,982.9 L1919.6,982.5 L1913.3,985.2 L1912.4,991.5 L1916.0,998.7 L1915.1,1005.9 L1913.3,1013.1 L1916.0,1015.8 L1923.2,1018.5 L1926.4,1022.1 L1925.9,1026.6 L1921.4,1029.3 L1905.2,1031.1 L1899.8,1032.9 L1889.0,1039.2 L1881.8,1043.7 L1867.4,1048.7 L1854.8,1052.7 L1842.2,1059.0 L1836.8,1067.1 L1829.6,1077.0 L1820.6,1085.1 L1811.6,1090.8 L1791.9,1095.9 L1773.9,1098.2 L1755.9,1099.8 L1747.8,1099.1 L1746.9,1103.1 L1746.0,1109.4 L1739.7,1114.8 L1727.1,1113.0 L1707.3,1111.2 L1698.3,1113.9 L1685.7,1124.7 L1676.7,1126.8 L1665.9,1133.7 L1655.1,1140.0 L1651.5,1142.3"/></g><g clip-path="url(#cc7)"><path d="M2046.4,878.2 L2046.8,879.1 L2047.7,884.5 L2051.3,891.7 L2054.9,897.1 L2056.7,907.0 L2060.3,914.2 L2066.6,919.6 L2075.6,925.0 L2082.8,929.5 L2085.5,934.0 L2079.2,938.5 L2074.7,942.1 L2072.9,947.5 L2074.7,952.0 L2075.2,956.5 L2072.0,958.3 L2054.0,957.7 L2036.0,957.0 L2018.0,955.9 L2000.0,955.2 L1998.2,955.2"/></g><g clip-path="url(#cc8)"><path d="M1660.1,1137.8 L1657.4,1139.1 L1654.7,1140.9 L1645.8,1145.4 L1635.0,1151.7 L1626.0,1157.9 L1617.1,1164.2 L1612.6,1166.9 L1610.8,1171.4 L1611.3,1233.2 L1611.7,1337.2 L1538.2,1337.2 M1611.3,1233.6 L1602.7,1233.6 L1602.7,1237.7 L1604.5,1245.8 L1603.1,1252.9 L1604.5,1259.2 L1606.7,1263.7 L1604.5,1266.4 L1597.4,1267.6 L1590.2,1268.7 L1579.4,1268.2 L1566.9,1268.7 L1559.7,1271.8 L1550.8,1278.0 L1545.4,1283.4 L1540.0,1284.3 L1538.2,1284.5 M1611.3,1257.4 L1849.2,1399.0 L1852.8,1401.2"/></g><g clip-path="url(#cc10)"><path d="M1540.0,1097.7 L1527.9,1110.3 L1517.2,1124.7 L1504.6,1140.0 L1502.8,1142.3"/></g><g clip-path="url(#cc18)"><path d="M1078.8,911.3 L1081.7,909.4 L1091.4,912.7 L1098.2,910.8 L1112.7,916.6 L1104.0,923.0 L1093.3,922.0 L1083.7,918.1 L1078.8,915.2Z"/></g><g clip-path="url(#cc21)"><path d="M1031.2,1165.2 L1035.4,1161.0 L1043.8,1159.3 L1048.0,1163.1 L1048.4,1168.3 L1046.9,1173.5 L1045.9,1176.7 L1040.6,1182.3 L1039.6,1178.8 L1036.5,1173.5 L1033.3,1169.3Z M1020.7,1227.6 L1029.1,1226.4 L1036.5,1221.8 L1038.5,1224.9 L1032.3,1234.8 L1024.9,1231.2Z M1074.2,1205.0 L1077.3,1200.8 L1081.5,1199.7 L1087.8,1206.7 L1083.6,1210.2 L1079.8,1212.3 L1075.2,1209.2Z M1099.3,1190.7 L1104.6,1189.3 L1123.4,1187.2 L1136.0,1178.4 L1148.6,1176.7 L1148.6,1179.4 L1136.0,1188.2 L1131.8,1198.7 L1127.6,1206.0 L1121.4,1211.3 L1115.1,1212.3 L1108.8,1205.0 L1104.6,1198.7 L1101.4,1193.5Z M1167.5,1213.4 L1171.7,1208.1 L1175.9,1202.9 L1190.5,1203.9 L1192.6,1202.5 L1193.7,1211.3 L1193.7,1220.7 L1190.5,1223.9 L1182.1,1228.5 L1175.9,1228.0 L1169.6,1222.8 L1167.5,1218.6Z M1227.2,1401.0 L1228.3,1399.1 L1229.3,1383.2 L1232.5,1370.6 L1236.6,1362.2 L1242.9,1349.6"/></g><g clip-path="url(#cc22)"><path d="M1544.2,1092.1 L1540.0,1096.6 L1526.5,1110.9 L1515.5,1126.4 L1497.8,1146.2 L1482.4,1156.2 L1462.5,1167.9 L1447.0,1179.4 L1439.3,1188.6 L1431.6,1193.7 L1405.1,1204.8 L1376.4,1212.0 L1356.5,1213.6 L1345.5,1218.0 L1338.8,1227.5 L1331.1,1234.1 L1325.6,1248.9 L1316.8,1265.5 L1312.4,1278.7 L1307.9,1288.7 L1296.9,1296.4 L1282.5,1305.2 L1270.4,1310.7 L1262.7,1316.3 L1254.9,1320.7 L1250.5,1327.3 L1248.3,1340.5 L1242.8,1349.4 L1238.4,1360.4 L1230.7,1373.7 L1227.3,1386.9 L1227.3,1401.3 M1543.1,1284.2 L1540.0,1284.2 L1533.2,1284.2 L1526.5,1280.9 L1522.1,1282.0 L1515.5,1283.6 L1506.7,1279.8 L1495.6,1275.4 L1482.4,1273.9 L1471.3,1274.3 L1460.3,1277.6 L1442.6,1282.0 L1444.8,1287.6 L1447.0,1292.0 L1447.0,1296.4 L1442.6,1300.8 L1433.8,1309.6 L1427.2,1318.5 L1422.8,1326.2 L1421.7,1330.6 L1413.9,1331.7 L1402.9,1335.0 L1399.6,1345.0 L1394.0,1361.5 L1389.6,1380.3 L1383.5,1401.3 M1404.0,1401.3 L1404.0,1337.2 L1543.1,1337.2"/></g><g clip-path="url(#cc23)"><path d="M1289.2,1157.3 L1292.5,1147.3 L1301.3,1143.6 L1310.1,1141.4 L1314.1,1136.3 L1316.8,1138.5 L1314.6,1141.8 L1312.8,1150.2 L1305.7,1152.9 L1298.0,1155.1 L1293.6,1159.5Z M1249.4,1206.3 L1257.2,1204.8 L1266.0,1200.3 L1270.4,1187.1 L1279.2,1171.6 L1281.0,1168.3 L1284.8,1166.1 L1290.3,1167.2 L1291.4,1172.7 L1290.3,1181.6 L1288.1,1189.3 L1284.8,1196.6 L1277.0,1199.2 L1268.2,1201.9 L1263.8,1204.8 L1259.4,1209.2Z"/></g><g clip-path="url(#cc24)"><path d="M1549.0,982.5 L1546.8,989.0 L1541.4,998.9 L1540.5,1016.0 L1539.9,1034.0 L1537.8,1042.1 L1537.4,1046.6 L1542.3,1050.2 L1548.6,1057.4 L1552.2,1066.3 L1550.4,1080.7 L1545.0,1091.5 L1540.0,1097.7"/></g><g clip-path="url(#cc25)"><path d="M356.0,552.9 L359.0,551.5 L362.8,550.4 L366.1,550.7 L368.8,552.6 L371.0,555.3 L370.4,557.2 L368.3,558.0 L362.8,558.0 L360.1,556.4 L357.9,554.5Z M374.8,557.5 L375.9,556.1 L379.1,555.6 L384.6,555.9 L388.9,557.8 L394.3,560.5 L399.8,563.2 L404.1,564.6 L400.9,565.1 L397.6,564.8 L394.3,566.2 L391.6,565.7 L387.8,564.8 L383.5,564.6 L380.2,564.8 L377.5,562.9 L375.3,560.8Z M389.5,543.9 L393.8,545.3 L399.8,547.4 L405.2,549.3 L411.7,551.5 L417.2,553.7 L422.6,555.9 L419.3,556.1 L415.0,555.3 L409.0,553.4 L402.5,551.5 L397.1,549.9 L394.3,547.7Z M446.5,542.6 L448.7,540.7 L454.1,540.0 L459.6,540.2 L465.0,541.7 L468.3,544.5 L468.8,548.3 L466.6,551.0 L463.9,550.7 L459.6,549.9 L454.1,549.3 L450.9,548.3 L448.2,546.1Z"/></g><g clip-path="url(#cc26)"><path d="M542.7,596.5 L546.8,595.5 L551.1,598.0 L554.9,599.9 L559.9,600.5 L569.8,599.9 L579.2,599.4 L584.1,600.2 L584.1,603.6 L582.3,605.8 L578.5,607.0 L568.6,608.1 L562.3,606.7 L556.1,605.5 L549.9,604.6 L545.5,601.8 L542.9,599.3Z M583.2,652.5 L585.4,651.3 L590.4,650.9 L592.9,652.2 L594.1,654.7 L593.8,655.9 L590.4,655.6 L586.0,655.9 L584.1,654.1Z"/></g><g clip-path="url(#cc27)"><path d="M204.8,503.0 L205.6,497.7 L207.1,496.3 L209.5,495.8 L213.2,498.0 L213.8,501.6 L213.0,504.1 L210.5,505.5 L208.0,504.9 L205.3,504.1Z"/></g></g><defs><clipPath id="cc0"><rect x="1540" y="99" width="460" height="261"/></clipPath><clipPath id="cc1"><rect x="2000" y="99" width="463" height="261"/></clipPath><clipPath id="cc2"><rect x="1540" y="360" width="460" height="260"/></clipPath><clipPath id="cc3"><rect x="2000" y="360" width="463" height="260"/></clipPath><clipPath id="cc4"><rect x="1540" y="620" width="460" height="260"/></clipPath><clipPath id="cc5"><rect x="2000" y="620" width="463" height="260"/></clipPath><clipPath id="cc6"><rect x="1540" y="880" width="460" height="260"/></clipPath><clipPath id="cc7"><rect x="2000" y="880" width="463" height="260"/></clipPath><clipPath id="cc8"><rect x="1540" y="1140" width="460" height="259"/></clipPath><clipPath id="cc9"><rect x="2000" y="1140" width="463" height="259"/></clipPath><clipPath id="cc10"><rect x="1080" y="880" width="460" height="260"/></clipPath><clipPath id="cc11"><rect x="1000" y="620" width="540" height="260"/></clipPath><clipPath id="cc12"><rect x="1000" y="99" width="540" height="261"/></clipPath><clipPath id="cc13"><rect x="1000" y="360" width="540" height="260"/></clipPath><clipPath id="cc14"><rect x="560" y="360" width="440" height="260"/></clipPath><clipPath id="cc15"><rect x="160" y="99" width="576" height="241"/></clipPath><clipPath id="cc16"><rect x="736" y="99" width="264" height="241"/></clipPath><clipPath id="cc17"><rect x="160" y="565" width="400" height="225"/></clipPath><clipPath id="cc18"><rect x="700" y="860" width="460" height="280"/></clipPath><clipPath id="cc19"><rect x="160" y="860" width="540" height="280"/></clipPath><clipPath id="cc20"><rect x="160" y="1140" width="540" height="259"/></clipPath><clipPath id="cc21"><rect x="700" y="1140" width="540" height="259"/></clipPath><clipPath id="cc22"><rect x="1240" y="1140" width="300" height="259"/></clipPath><clipPath id="cc23"><rect x="1200" y="1100" width="160" height="140"/></clipPath><clipPath id="cc24"><rect x="160" y="99" width="2303" height="1300"/></clipPath><clipPath id="cc25"><rect x="160" y="99" width="2303" height="1300"/></clipPath><clipPath id="cc26"><rect x="160" y="99" width="2303" height="1300"/></clipPath><clipPath id="cc27"><rect x="160" y="99" width="2303" height="1300"/></clipPath></defs><g fill="none" stroke="#808080" stroke-width="1.1" stroke-linejoin="round"><g clip-path="url(#cc0)"><path d="M1538.2,194.7 L1540.0,193.8 L1567.1,179.4 L1585.2,171.2 L1603.2,161.3 L1621.3,149.6 L1648.4,131.5 L1675.5,110.7 L1697.1,98.1 M2002.3,137.8 L2000.0,139.6 L1993.3,146.0 L1988.8,156.8 L1987.9,167.6 L1985.2,174.9 L1977.1,187.5 L1973.5,198.3 L1974.4,205.6 L1977.1,211.0 L1978.9,221.8 L1982.5,229.0 L1991.5,236.3 L2002.3,242.6 M2002.3,283.9 L1993.3,285.9 L1989.7,290.4 L1982.5,295.9 L1977.1,295.0 L1973.5,290.4 L1965.3,286.8 L1959.0,289.5 L1953.6,290.1 L1944.6,294.1 L1935.5,297.7 L1933.7,300.4 L1931.0,296.8 L1927.4,293.7 L1921.1,298.6 L1914.8,304.0 L1903.0,303.1 L1894.0,298.6 L1886.8,295.0 L1878.6,291.9 L1884.1,289.5 L1887.7,285.0 L1884.1,281.8 L1877.7,280.5 L1871.4,277.8 L1865.1,280.5 L1857.9,284.1 L1853.3,284.1 L1849.7,278.7 L1851.5,273.3 L1847.0,270.6 L1840.7,266.6 L1834.4,269.7 L1829.0,270.6 L1821.7,269.7 L1814.5,271.5 L1807.3,272.4 L1801.9,275.1 L1796.5,275.6 L1791.0,278.7 L1785.6,276.9 L1778.4,269.7 L1773.0,270.6 L1763.9,271.5 L1751.3,272.4 L1753.1,275.1 L1760.3,275.1 L1771.2,276.9 L1774.8,279.6 L1771.2,283.2 L1765.8,285.4 L1763.9,290.4 L1758.5,294.1 L1753.1,294.1 L1747.7,288.6 L1742.3,285.9 L1745.9,278.7 L1742.3,277.8 L1735.1,278.2 L1727.8,281.4 L1721.5,285.0 L1717.0,292.2 L1713.4,295.9 L1709.8,297.7 L1704.4,295.5 L1700.7,298.0 L1701.6,303.1 L1704.4,306.7 L1707.1,310.3 L1702.5,315.7 L1698.9,319.3 L1695.3,322.9 L1697.1,326.6 L1699.8,329.3 L1697.1,330.5 L1691.7,327.5 L1688.1,326.6 L1680.9,328.0 L1677.3,330.2 L1673.6,334.7 L1672.7,341.0 L1669.1,340.6 L1666.4,336.5 L1662.8,337.4 L1659.2,338.8 L1648.4,337.4 L1644.8,337.4 L1638.4,340.1 L1635.7,342.8 L1634.8,348.2 L1635.7,355.5 L1635.7,360.9 M1719.7,334.7 L1722.4,330.2 L1728.7,325.7 L1733.2,329.3 L1727.8,333.8 L1722.4,336.5Z M1946.4,328.4 L1953.6,325.1 L1962.6,324.8 L1971.6,326.6 L1978.9,333.8 L1984.3,337.4 L1991.5,341.0 L1987.9,342.8 L1978.9,343.7 L1969.8,343.2 L1962.6,339.2 L1955.4,334.7Z"/></g><g clip-path="url(#cc1)"><path d="M1998.2,141.6 L2000.0,140.5 L2010.8,132.4 L2027.1,123.9 L2045.2,123.4 L2059.6,122.5 L2072.3,126.1 L2081.3,130.6 L2090.3,132.4 L2101.2,128.8 L2112.0,131.5 L2126.5,138.7 L2137.3,146.0 L2151.7,147.8 L2166.2,151.4 L2184.3,155.0 L2200.5,157.2 L2216.8,155.4 L2231.2,152.3 L2240.3,150.8 L2252.9,150.5 L2256.5,147.4 L2261.0,148.7 L2255.6,154.1 L2258.3,157.2 L2265.6,158.6 L2271.0,159.5 L2275.5,166.7 L2285.4,167.6 L2296.3,169.8 L2303.5,174.9 L2307.1,179.4 L2299.9,185.7 L2304.4,191.1 L2305.3,198.4 L2308.9,204.7 L2317.9,205.6 L2332.4,206.5 L2339.6,202.9 L2350.5,201.6 L2363.1,203.8 L2362.2,216.4 L2368.5,218.6 L2377.6,210.1 L2373.9,204.7 L2383.0,201.1 L2390.2,196.5 L2401.0,192.0 L2408.3,182.1 L2419.1,172.2 L2426.3,171.3 L2437.2,173.1 L2444.4,163.1 L2451.6,153.2 L2451.6,147.8 L2460.7,145.1 L2465.2,143.8 M2233.9,136.0 L2238.5,134.8 L2243.9,136.0 L2238.5,137.3Z M2317.0,179.4 L2323.4,177.6 L2327.0,179.0 L2326.1,181.7 L2319.7,180.3Z M2341.4,222.7 L2350.5,217.3 L2353.2,222.7 L2345.0,224.2Z M2306.2,241.7 L2308.0,236.3 L2314.3,232.7 L2325.2,233.6 L2335.1,234.1 L2336.0,238.1 L2334.2,241.7 L2323.4,243.5 L2316.1,246.2 L2312.5,248.0 L2305.3,248.0Z M1998.2,241.0 L2000.0,241.7 L2010.8,245.3 L2027.1,248.6 L2041.5,252.2 L2054.2,249.8 L2063.2,249.8 L2067.7,253.5 L2061.4,258.0 L2056.0,263.4 L2053.3,267.9 L2047.0,269.7 L2037.9,270.6 L2033.4,274.2 L2025.3,277.8 L2022.6,285.1 L2014.5,288.3 L2000.0,283.6 L1998.2,283.3 M2215.0,320.3 L2205.9,322.1 L2195.1,320.3 L2180.6,318.5 L2166.2,313.1 L2157.2,308.6 L2144.5,312.2 L2137.3,306.7 L2131.9,303.1 L2119.2,299.5 L2108.4,294.1 L2101.2,290.5 L2097.5,283.3 L2101.2,278.7 L2113.8,279.6 L2119.2,277.8 L2130.1,276.9 L2144.5,279.6 L2155.4,276.9 L2166.2,278.7 L2180.6,280.6 L2189.7,282.4 L2200.5,280.6 L2216.8,282.9 L2227.6,283.3 L2238.5,280.6 L2252.9,281.5 L2267.4,282.9 L2276.4,281.5 L2292.6,284.2 L2296.3,290.5 L2299.9,296.8 L2299.0,304.0 L2307.1,304.9 L2314.3,312.2 L2318.8,315.8 L2317.9,319.4 L2310.7,324.8 L2301.7,328.4 L2307.1,337.5 L2308.9,348.3 L2305.3,355.5 L2299.9,360.9 M2256.5,353.7 L2263.7,355.5 L2271.0,351.0 L2275.5,347.4 L2277.3,353.7 L2280.0,360.9"/></g><g clip-path="url(#cc2)"><path d="M1635.3,358.2 L1640.7,362.7 L1643.4,366.3 L1644.3,378.0 L1647.9,382.5 L1651.5,385.2 L1648.8,391.5 L1649.7,396.9 L1642.5,400.5 L1635.3,405.9 L1629.0,409.5 L1624.6,415.8 L1628.2,421.2 L1630.8,426.6 L1631.7,433.8 L1635.3,440.1 L1640.7,439.2 L1647.9,433.8 L1654.2,432.0 L1657.8,434.7 L1653.3,441.0 L1649.7,446.4 L1642.5,452.6 L1634.4,456.2 L1628.2,462.5 L1624.6,466.1 L1620.1,473.3 L1614.7,484.1 L1604.8,490.4 L1594.0,492.2 L1583.2,494.0 L1574.2,495.8 L1563.4,501.2 L1554.4,505.7 L1547.2,509.3 L1540.0,514.7 L1538.2,515.8 M1893.5,415.8 L1899.8,411.3 L1905.2,405.0 L1909.7,402.3 L1916.0,403.2 L1913.3,408.6 L1911.5,414.0 L1908.8,417.6 L1901.6,418.5Z M1932.2,390.6 L1938.5,389.1 L1943.9,390.9 L1934.0,395.6Z M1796.4,441.3 L1802.7,446.0 L1808.9,448.2 L1817.0,440.1 L1826.0,433.8 L1827.8,431.1 L1835.0,429.3 L1844.0,431.6 L1851.2,433.8 L1845.8,439.2 L1838.6,446.4 L1833.2,448.2 L1829.6,449.4 M2002.3,556.6 L1995.1,557.9 L1993.3,565.1 L1984.3,575.9 L1977.2,578.6 L1970.9,582.2 L1967.3,592.1 L1962.8,599.3 L1961.9,604.7 L1964.6,610.1 L1968.2,614.6 L1964.6,621.8 M1955.6,621.8 L1957.4,614.6 L1961.0,615.5 L1965.5,621.8 M1913.3,621.8 L1914.2,614.6 L1921.4,611.9 L1926.8,610.1 L1934.0,603.8 L1939.4,603.8 L1944.8,608.3 L1941.2,613.7 L1946.6,617.3 L1948.4,621.8"/></g><g clip-path="url(#cc3)"><path d="M2465.2,506.7 L2463.0,504.0 L2455.3,495.9 L2444.5,487.8 L2435.5,480.6 L2428.3,477.0 L2419.3,477.0 L2413.9,469.8 L2404.9,461.7 L2395.9,453.6 L2388.7,448.2 L2379.7,441.0 L2374.3,435.6 L2368.9,428.4 L2365.3,422.1 L2358.1,411.3 L2349.1,402.3 L2341.9,396.0 L2331.1,391.5 L2320.3,390.6 L2305.9,391.5 L2296.9,390.2 L2286.1,387.0 L2278.9,385.2 L2271.7,384.3 L2268.1,378.0 L2266.3,372.6 L2262.7,368.6 L2255.5,369.0 L2251.9,371.7 L2256.4,378.0 L2256.4,384.3 L2250.1,386.1 L2244.7,387.0 L2241.1,383.4 L2239.3,379.8 L2236.6,378.0 L2240.2,377.1 L2242.0,379.8 L2237.5,385.2 L2232.1,389.7 L2226.7,390.6 L2223.1,393.3 L2214.1,397.8 L2210.5,404.1 L2215.9,407.7 L2223.1,408.6 L2230.3,412.2 L2235.7,418.5 L2242.9,427.5 L2244.4,435.6 L2243.8,444.6 L2241.1,453.6 L2238.4,464.4 L2237.5,473.4 L2239.3,482.4 L2242.9,489.6 L2244.7,496.8 L2243.8,504.0 L2237.5,511.2 L2230.3,516.6 L2223.1,522.0 L2215.9,526.4 L2208.7,531.8 L2197.9,539.9 L2190.7,543.5 L2181.7,547.1 L2174.5,551.6 L2165.5,555.2 L2156.6,557.9 L2151.2,559.4 L2144.9,558.8 L2140.4,554.3 L2133.2,547.1 L2127.8,548.9 L2118.8,547.1 L2108.0,542.6 L2100.8,538.1 L2094.5,532.7 L2090.0,525.5 L2084.6,525.5 L2070.2,524.7 L2057.6,527.3 L2047.7,533.6 L2049.5,540.8 L2043.2,543.5 L2034.2,544.4 L2025.2,547.1 L2018.0,548.9 L2010.8,548.6 L2003.6,552.5 L2000.0,557.0 L1998.2,558.8 M2268.1,365.4 L2275.3,364.0 L2277.1,366.8 L2271.7,368.1Z M2280.7,358.2 L2287.9,362.7 L2295.1,363.2 L2300.5,358.2 M2031.5,439.2 L2033.3,433.8 L2045.0,431.6 L2051.3,434.7 L2050.4,442.8 L2051.3,450.9 L2048.6,454.5 L2043.2,455.4 L2037.8,453.9 L2034.2,448.2Z M2043.2,493.2 L2037.8,492.3 L2033.3,487.8 L2033.3,478.8 L2038.7,473.4 L2045.0,469.8 L2052.2,466.2 L2061.2,464.0 L2070.2,462.9 L2076.5,464.0 L2079.2,459.9 L2084.6,455.4 L2090.0,452.7 L2090.9,444.6 L2093.6,438.3 L2100.8,435.6 L2108.0,434.1 L2115.2,432.0 L2120.6,431.1 L2124.2,434.1 L2123.3,440.1 L2120.6,447.3 L2127.8,452.7 L2122.4,458.1 L2115.2,464.4 L2108.0,473.4 L2102.6,477.9 L2093.6,480.6 M2040.5,584.0 L2046.8,582.2 L2045.9,588.2Z M2233.9,522.0 L2239.3,518.0 L2246.5,517.5 L2251.9,520.2"/></g><g clip-path="url(#cc4)"><path d="M1538.2,824.2 L1540.0,821.5 L1547.2,808.9 L1558.0,798.1 L1574.2,784.6 L1590.4,772.9 L1604.8,764.8 L1619.2,753.1 L1629.9,745.9 L1642.5,739.6 L1656.9,734.2 L1671.3,729.7 L1680.3,720.7 L1689.3,718.0 L1709.1,716.2 L1723.5,715.3 L1739.7,713.5 L1752.3,718.6 L1763.1,720.4 L1771.2,721.3 L1779.3,727.9 L1784.7,736.0 L1791.9,744.1 L1797.3,751.3 L1800.0,758.5 L1796.4,763.0 L1796.4,770.8 L1808.9,771.5 L1811.6,778.3 L1813.4,785.5 L1820.6,794.5 L1829.6,797.2 L1838.6,803.5 L1845.8,812.5 L1853.0,819.7 L1859.3,819.7 L1862.0,826.9 L1865.6,833.2 L1856.6,835.9 L1849.4,839.5 L1841.3,844.9 L1831.4,844.5 L1820.6,843.1 L1816.1,837.7 L1811.6,835.9 L1813.4,841.3 L1814.3,844.9 L1809.8,850.3 L1799.1,856.6 L1791.9,858.4 L1781.1,861.1 L1773.9,863.8 L1764.9,869.2 L1757.7,873.7 L1748.7,874.6 L1741.5,875.5 L1736.1,880.9 M1829.6,677.2 L1835.0,672.2 L1842.2,667.1 L1849.4,664.1 L1855.7,664.1 L1852.1,667.7 L1853.0,673.1 L1858.4,677.2 L1845.8,679.0 L1833.2,680.3Z M1912.4,618.2 L1913.3,622.7 L1919.6,627.2 L1927.7,632.6 L1931.3,640.7 L1926.8,647.9 L1919.6,650.6 L1910.6,652.9 L1903.4,652.4 L1896.2,647.9 L1889.9,647.3 L1881.8,652.4 L1878.2,656.0 L1865.6,656.9 L1857.5,658.1 L1859.3,662.3 L1865.6,664.1 L1874.6,665.0 L1884.5,666.4 L1889.0,661.4 L1890.8,659.6 L1896.2,662.3 L1903.4,665.0 L1912.4,665.9 L1921.4,664.1 L1926.8,662.6 L1935.8,665.9 L1948.4,666.4 L1959.2,664.1 L1965.5,661.7 L1971.8,664.1 L1979.0,665.0 L1987.9,662.8 L1995.1,659.2 L2003.2,656.9 M1948.4,618.2 L1949.3,625.4 L1952.9,632.6 L1959.2,630.8 L1959.2,625.4 L1955.6,621.8 L1953.8,618.2 M1899.8,782.8 L1907.0,781.0 L1915.1,785.1 L1921.4,782.8 L1922.3,776.9 L1923.2,792.7 L1921.4,797.2 L1916.0,795.4 L1907.9,794.5 L1901.6,796.3Z M1930.4,801.7 L1933.1,800.3 L1935.8,802.1 L1933.1,803.1Z M1903.4,881.8 L1910.6,873.7 L1918.7,865.6 L1919.6,858.4 L1915.1,852.1 L1914.2,844.9 L1909.7,844.9 L1905.2,838.6 L1905.2,833.2 L1899.8,832.3 L1894.4,834.1 L1892.6,853.0 L1882.7,863.8 L1884.5,875.5 L1885.4,881.8 M1856.6,881.8 L1863.8,872.8 L1871.0,875.5 L1867.4,881.8 M1839.5,832.3 L1840.8,830.5 L1841.9,833.7Z"/></g><g clip-path="url(#cc5)"><path d="M1998.2,656.9 L2000.0,656.9 L2008.1,657.8 L2014.4,656.5 L2020.7,657.4 L2027.0,665.9 L2036.0,665.3 L2052.2,664.6 L2059.4,662.3 L2070.2,659.2 L2077.4,658.7 L2090.0,656.3 L2095.4,656.0 L2108.0,653.3 L2115.2,652.9 L2126.0,650.2 L2136.8,645.2 L2149.4,639.4 L2165.5,631.7 L2179.9,626.3 L2195.2,623.2 L2208.7,624.5 L2224.9,628.1 L2239.3,633.5 L2255.5,640.3 L2264.5,644.3 L2275.3,650.6 L2287.9,659.6 L2300.5,671.3 L2295.1,676.7 L2289.7,683.0 L2282.5,688.4 L2273.5,690.7 L2268.1,692.9 L2264.5,696.5 L2269.9,701.9 L2268.1,708.2 L2260.9,712.7 L2253.7,716.3 L2244.7,724.4 L2239.3,725.8 L2237.5,728.0 L2240.2,738.8 L2239.3,745.1 L2232.1,748.1 L2224.9,750.5 L2220.4,754.1 L2218.6,756.2 L2208.7,758.2 L2201.5,762.2 L2200.6,770.3 L2195.2,776.2 L2190.7,774.8 L2185.3,771.2 L2182.6,764.9 L2179.9,763.4 L2176.0,763.6 L2175.4,771.2 M2125.1,782.5 L2120.6,784.1 L2115.2,782.5 L2100.8,784.1 L2090.0,785.5 L2077.4,787.3 L2065.7,789.7 L2059.4,798.1 L2054.0,802.6 L2047.7,808.0 L2054.0,811.6 L2057.6,819.7 L2053.1,825.1 L2051.8,833.2 L2058.5,835.0 L2072.0,833.2 L2084.6,831.4 L2097.2,826.9 L2111.6,820.1 L2122.4,817.6 L2136.8,810.7 L2149.4,803.9 L2158.4,805.0 L2170.9,800.8 L2181.7,802.6 L2187.1,803.5 L2197.9,802.6 L2214.1,801.7 L2224.9,799.0 L2239.3,793.6 L2248.3,790.9 L2251.9,784.7 L2255.5,782.9 L2262.7,785.2 L2269.9,786.4 L2280.7,783.8 L2287.9,782.0 L2295.1,773.0 L2302.3,765.8 L2306.8,758.6 L2307.7,746.0 L2300.5,744.2 L2293.3,746.0 L2287.9,749.6 L2282.5,758.6 L2271.7,756.8 L2259.1,752.3 L2259.1,746.0 L2269.9,738.8 L2275.3,730.7 L2282.5,726.2 L2291.5,725.3 L2305.9,722.6 L2313.1,719.9 L2320.3,726.5 L2332.0,724.0 L2341.9,725.8 L2350.9,726.2 L2361.7,724.4 L2368.0,727.4 L2359.9,732.5 L2353.6,738.8 L2357.2,744.2 L2357.2,753.2 L2352.7,757.7 L2343.7,763.1 L2343.7,769.4 L2348.2,777.5 L2349.1,783.8 L2346.4,797.2 L2342.8,799.0 L2334.7,801.7 L2325.7,802.6 L2318.5,808.0 L2322.1,814.3 L2332.0,816.1 L2338.3,812.9 L2343.7,808.9 L2350.9,808.0 L2358.1,808.9 L2363.5,808.0 L2370.7,803.5 L2377.9,799.9 L2385.1,797.2 L2392.3,794.5 L2404.9,790.9 L2411.2,782.9 L2419.3,781.1 L2431.9,780.7 L2435.5,774.8 L2433.7,769.0 L2430.1,767.2 L2419.3,765.8 L2412.1,764.0 L2409.4,758.6 L2408.5,751.4 L2404.9,746.9 L2401.3,744.2 L2397.7,735.2 L2394.1,728.0 L2388.7,726.2 L2384.2,720.8 L2388.7,719.3 L2397.7,719.3 L2406.7,718.1 L2419.3,723.5 L2430.1,724.0 L2439.1,724.4 L2449.9,726.5 L2465.2,731.2 M2313.1,734.3 L2319.4,730.1 L2322.1,734.3 L2320.3,738.4Z M2220.4,851.2 L2225.8,845.3 L2233.0,852.1 L2241.1,849.4 L2248.3,843.1 L2257.3,834.1 L2268.1,830.5 L2278.9,823.3 L2287.9,818.8 L2295.1,820.6 L2300.5,826.9 L2295.1,831.4 L2290.6,837.7 L2289.7,844.9 L2282.5,853.0 L2276.2,854.8 L2269.9,850.3 L2262.7,851.2 L2257.3,853.9 L2253.7,861.1 L2249.2,865.6 M2129.6,857.5 L2133.2,853.6 L2140.4,858.4 L2137.7,863.8 L2133.2,865.6 L2129.9,863.8Z"/></g><g clip-path="url(#cc6)"><path d="M1736.1,878.2 L1730.7,885.4 L1726.2,890.8 L1725.3,895.3 L1730.7,900.7 L1739.7,905.2 L1752.3,907.9 L1761.3,907.0 L1772.1,908.8 L1779.3,913.3 L1782.0,919.6 L1777.5,922.3 L1772.1,926.8 L1764.9,935.8 L1755.9,943.9 L1746.9,949.3 L1739.7,952.0 L1730.7,958.3 L1721.7,964.6 L1717.2,969.9 L1716.3,976.2 L1709.1,979.8 L1698.3,984.3 L1689.3,988.8 L1680.3,992.4 L1673.1,995.1 L1665.9,1000.5 L1655.1,1002.0 L1642.5,1007.4 L1626.4,1007.4 L1615.6,1008.1 L1603.0,1009.2 L1594.0,1007.4 L1585.0,1004.1 L1576.0,1007.7 L1568.8,1012.2 L1566.1,1018.5 L1567.0,1031.1 L1563.4,1036.5 L1558.9,1044.6 L1561.6,1050.0 L1567.0,1051.8 L1579.6,1047.7 L1595.8,1047.3 L1608.4,1044.6 L1622.8,1041.9 L1631.7,1041.5 L1640.7,1042.8 L1644.3,1044.6 L1644.3,1050.9 L1640.7,1053.6 L1629.9,1057.2 L1624.6,1061.7 L1617.4,1068.0 L1608.4,1071.6 L1599.4,1077.9 L1588.6,1084.2 L1581.4,1087.8 L1577.8,1092.3 L1572.4,1104.9 L1567.0,1119.3 L1559.8,1122.9 L1552.6,1122.9 L1547.2,1126.5 L1545.4,1131.9 L1550.8,1135.5 L1567.0,1138.2 L1576.0,1135.5 L1586.8,1135.5 L1594.0,1131.9 L1600.3,1124.7 L1608.4,1119.3 L1619.2,1113.9 L1626.4,1109.4 L1644.3,1103.1 L1653.3,1095.9 L1665.9,1097.7 L1672.2,1094.1 L1673.1,1088.7 L1682.1,1081.5 L1692.9,1078.8 L1701.9,1076.1 L1709.1,1071.6 L1714.5,1068.9 L1719.9,1060.8 L1727.1,1059.0 L1734.3,1060.8 L1738.8,1064.4 L1741.5,1070.7 L1746.9,1074.3 L1755.9,1072.5 L1764.9,1070.7 L1767.6,1063.5 L1761.3,1059.9 L1755.0,1053.6 L1752.3,1052.3 L1745.1,1052.7 L1739.7,1050.9 L1743.3,1045.5 L1746.9,1036.5 L1759.5,1041.5 L1772.1,1042.3 L1781.1,1044.6 L1773.9,1050.0 L1779.3,1052.7 L1786.5,1050.9 L1791.9,1044.6 L1786.5,1040.1 L1784.7,1032.9 L1791.9,1032.0 L1802.7,1034.7 L1815.2,1029.3 L1822.4,1023.0 L1827.8,1015.8 L1835.0,1014.9 L1845.8,1011.3 L1854.8,1008.6 L1862.0,1007.4 L1864.7,1001.4 L1860.2,993.3 L1851.2,993.3 L1845.8,992.4 L1840.4,996.0 L1835.0,996.6 L1829.6,994.2 L1833.2,988.8 L1842.2,985.2 L1856.6,984.3 L1871.0,983.4 L1880.0,985.2 L1889.0,986.5 L1894.4,989.7 L1899.8,994.2 L1907.0,997.3 L1914.2,999.6 L1917.8,1016.7 L1926.8,1022.1 L1935.8,1025.7 L1944.8,1027.9 L1959.2,1020.3 L1964.6,1002.3 L1973.6,1006.8 L1982.5,1013.1 L1989.7,1008.6 L2003.2,1009.2 M1691.1,1012.8 L1698.3,1007.7 L1703.7,1006.8 L1714.5,1008.6 L1732.5,1007.7 L1741.5,1005.9 L1754.1,1002.0 L1764.9,997.8 L1773.9,996.0 L1786.5,994.2 L1797.3,992.4 L1802.7,987.9 L1809.8,981.6 L1815.2,977.1 L1820.6,972.6 L1825.1,969.0 L1826.0,961.9 L1833.2,960.1 L1840.4,957.4 L1844.0,951.1 L1846.7,945.7 L1853.0,941.2 L1862.0,937.2 L1871.9,932.5 L1883.6,938.5 L1892.6,935.8 L1905.2,933.6 L1917.8,932.2 L1925.0,931.3 L1928.6,926.4 L1921.4,923.2 L1910.6,923.2 L1899.8,922.8 L1890.8,922.3 L1881.8,921.7 L1872.8,923.2 L1863.8,922.3 L1849.4,924.6 L1838.6,927.7 L1831.4,930.0 L1820.6,928.6 L1809.8,927.7 L1806.2,930.4 L1804.5,937.6 L1800.9,942.1 L1791.9,943.9 L1779.3,947.5 L1767.6,957.4 L1766.7,963.7 L1755.9,970.8 L1746.9,976.2 L1736.1,982.5 L1728.9,986.1 L1719.9,990.6 L1714.5,994.2 L1698.3,998.7 L1691.1,1002.3 L1678.5,1004.1 L1665.9,1009.5 L1655.1,1014.9 L1647.9,1019.4 L1637.1,1018.2 L1629.9,1017.1 L1622.8,1020.0 L1615.6,1019.4 L1606.6,1022.1 L1597.6,1023.9 L1597.6,1027.5 L1598.5,1034.7 L1595.8,1038.3 L1597.6,1040.1 L1604.8,1038.3 L1615.6,1035.6 L1626.4,1032.9 L1637.1,1031.1 L1641.6,1029.3 L1647.9,1031.1 L1655.1,1034.7 L1658.7,1030.2 L1664.1,1031.1 M1712.7,1025.7 L1718.1,1022.1 L1727.1,1019.4 L1739.7,1018.2 L1748.7,1019.4 L1754.1,1024.8 L1748.7,1028.4 L1737.9,1032.9 L1727.1,1035.6 L1719.9,1034.7 L1715.4,1030.2Z M1883.6,969.0 L1892.6,969.9 L1898.0,975.3 L1903.4,982.5 L1902.5,985.2 L1898.0,984.3 L1894.4,979.8 L1889.9,975.3Z M1869.2,878.2 L1867.4,881.8 L1863.8,888.1 L1856.6,895.3 L1845.8,901.6 L1835.0,907.9 L1827.8,912.4 L1824.2,910.6 L1821.5,905.2 L1822.4,899.8 L1824.2,896.2 L1825.1,887.2 L1827.8,884.0 L1833.2,886.3 L1838.6,885.4 L1845.8,882.7 L1850.3,878.2 M1885.4,878.2 L1887.2,882.7 L1896.2,884.5 L1902.5,878.2 M1956.5,907.0 L1961.9,903.4 L1965.5,905.2 L1966.4,907.9 L1961.0,909.7Z M1759.5,907.0 L1761.3,902.5 L1765.8,898.0 L1767.6,901.6 L1764.9,906.1Z M1979.9,1100.4 L1984.3,1100.4"/></g><g clip-path="url(#cc7)"><path d="M1998.2,1009.2 L2000.0,1009.2 L2003.6,1011.4 L2006.3,1022.2 L2008.1,1027.6 L2011.7,1032.1 L2009.9,1038.4 L2010.8,1047.3 L2013.5,1058.1 L2018.0,1063.5 L2025.2,1069.8 L2027.0,1074.3 L2028.8,1082.4 L2033.3,1090.5 L2039.6,1097.7 L2047.7,1106.7 L2038.7,1107.6 L2033.3,1104.0 L2027.0,1113.9 L2027.9,1119.3 L2033.3,1124.4 L2039.6,1124.4 L2045.9,1126.5 L2052.2,1126.5 L2057.6,1120.6 L2066.6,1125.6 L2076.5,1128.3 L2079.2,1119.3 L2084.6,1113.9 L2090.0,1110.3 L2095.4,1109.4 L2108.0,1113.6 L2126.0,1114.8 L2140.4,1116.6 L2149.4,1116.6 L2158.4,1113.0 L2163.8,1107.6 L2176.3,1111.2 L2185.3,1108.5 L2194.3,1107.3 L2208.7,1105.8 L2224.9,1103.1 L2233.9,1100.4 L2244.7,1097.7 L2248.3,1099.5 L2255.5,1106.7 L2262.7,1118.4 L2269.9,1121.1 L2280.7,1121.1 L2289.7,1120.2 L2296.9,1113.9 L2302.3,1110.3 L2313.1,1104.9 L2318.5,1100.4 L2323.0,1094.1 L2323.0,1086.9 L2321.2,1079.7 L2319.4,1074.3 L2325.7,1072.9 L2332.9,1078.8 L2339.2,1083.3 L2341.9,1087.8 L2343.7,1095.0 L2350.9,1095.0 L2356.3,1087.8 L2368.9,1083.3 L2377.9,1077.0 L2385.1,1069.8 L2388.7,1064.4 L2394.1,1061.7 L2401.3,1056.3 L2406.7,1056.0 L2413.9,1060.8 L2414.8,1067.1 L2419.3,1072.9 L2431.9,1073.4 L2437.3,1068.9 L2436.4,1061.7 L2439.1,1055.4 L2442.7,1053.6 L2449.9,1050.9 L2457.1,1050.0 L2465.2,1048.8 M2094.5,907.0 L2100.8,904.3 L2106.2,901.6 L2109.8,900.2 L2112.5,903.4 L2112.5,907.9 L2108.0,911.5 L2102.6,913.8 L2097.2,910.6Z M2116.1,907.0 L2120.6,902.5 L2124.7,907.4 L2120.2,912.0Z M2113.4,918.7 L2118.8,917.4 L2121.5,918.1 L2122.4,920.5 L2117.0,921.4Z M2099.0,926.2 L2102.6,924.1 L2107.6,926.4 L2102.6,928.6Z M2055.8,1100.4 L2058.5,1095.0 L2064.8,1092.7 L2065.7,1100.4 L2063.0,1103.1 L2057.9,1105.3Z M2269.0,1099.5 L2275.3,1098.3 L2278.0,1100.4 L2276.2,1105.3Z M2309.5,1131.9 L2312.2,1125.1 L2318.5,1125.6 L2314.0,1132.8Z M2416.6,1131.6 L2419.3,1130.7 L2418.4,1133.7Z"/></g><g clip-path="url(#cc9)"><path d="M2098.0,1402.1 L2100.7,1399.7 L2109.6,1392.5 L2120.4,1387.1 L2131.2,1379.9 L2139.3,1375.1 L2145.6,1374.6 L2154.6,1368.3 L2163.6,1361.1 L2167.2,1355.7 L2167.2,1349.4 L2164.5,1344.9 L2160.9,1343.1 L2160.9,1336.8 L2166.3,1330.5 L2176.1,1327.3 L2188.7,1323.0 L2201.3,1321.5 L2208.5,1317.6 L2213.9,1312.5 L2226.5,1311.1 L2244.4,1311.1 L2251.6,1313.4 L2262.4,1311.6 L2273.2,1313.4 L2282.2,1320.6 L2285.8,1317.9 L2288.5,1312.5 L2298.4,1313.4 L2307.3,1316.5 L2319.9,1314.7 L2330.7,1314.7 L2350.5,1309.9 L2363.1,1305.4 L2369.4,1311.6 L2373.0,1318.8 L2373.0,1326.9 L2377.4,1337.7 L2380.1,1348.5 L2388.2,1358.4 L2391.8,1365.6 L2399.0,1368.3 L2403.5,1371.9 M2443.9,1388.9 L2450.2,1390.2 L2456.5,1387.1 L2465.5,1386.6 M2405.3,1331.4 L2406.6,1330.2 L2407.6,1332.3 L2407.5,1343.1 L2406.6,1344.5 L2405.3,1337.7Z M2405.3,1355.7 L2408.0,1353.0 L2413.4,1353.5 L2416.1,1356.6 L2413.4,1362.0 L2408.0,1360.2Z"/></g><g clip-path="url(#cc10)"><path d="M1479.4,878.2 L1477.6,879.1 L1472.2,883.6 L1463.2,894.4 L1457.8,903.4 L1448.8,914.2 L1445.2,919.6 L1439.8,925.0 L1430.8,932.2 L1421.8,935.8 L1407.4,939.7 L1398.4,943.0 L1389.4,949.3 L1384.0,953.8 L1376.8,961.9 L1364.2,975.3 L1360.6,980.7 L1353.4,995.1 L1348.0,1002.3 L1335.5,1013.1 L1324.7,1022.1 L1313.9,1030.2 L1306.7,1036.5 L1299.5,1041.9 L1288.7,1050.9 L1277.9,1056.3 L1268.9,1059.0 L1263.5,1060.8 L1249.1,1068.0 L1238.3,1072.1 L1223.9,1079.7 L1213.1,1085.1 L1202.3,1091.4 L1191.5,1097.7 L1184.3,1103.1 L1175.3,1110.3 L1164.6,1118.4 L1152.0,1130.1 L1141.2,1141.8"/></g><g clip-path="url(#cc11)"><path d="M1450.7,617.9 L1448.6,619.0 L1441.3,632.6 L1431.8,645.2 L1425.5,655.6 L1417.2,667.2 L1406.7,677.6 L1394.1,687.1 L1381.5,694.4 L1371.0,702.8 L1360.6,712.2 L1350.1,718.5 L1336.5,722.7 M1288.9,748.9 L1279.9,756.3 L1274.6,763.6 L1267.3,770.9 L1255.7,781.4 L1245.3,790.8 L1230.6,802.4 L1224.3,804.5 L1211.7,811.8 L1199.1,820.2 L1190.8,826.5 L1178.2,833.8 L1165.6,842.2 L1159.3,848.5 L1150.9,862.1 L1146.7,864.2 L1136.3,864.2 L1130.0,867.4 L1119.5,874.7 L1111.1,879.9 L1104.8,883.1 M1542.9,817.0 L1540.0,821.2 L1532.5,833.8 L1530.4,839.1 L1524.1,846.4 L1513.6,851.6 L1503.1,854.8 L1493.7,857.9 L1484.2,863.2 L1482.1,871.6 L1478.0,877.8 L1473.8,882.0"/></g><g clip-path="url(#cc12)"><path d="M1394.1,96.9 L1392.0,98.0 L1387.8,100.0 L1375.2,104.2 L1360.6,110.5 L1343.8,114.7 L1324.9,116.8 L1310.2,117.4 L1293.5,120.6 L1283.0,123.1 L1268.3,125.2 L1251.6,124.2 L1230.6,124.6 L1209.6,125.8 L1199.1,126.9 L1188.7,129.4 L1167.7,133.6 L1146.7,137.4 L1125.8,139.5 L1104.8,140.3 L1083.9,140.5 L1062.9,137.8 L1041.9,137.4 L1016.8,138.4 L1000.0,140.5 L997.9,140.7 M1146.7,362.1 L1153.0,360.0 L1178.2,352.6 L1199.1,346.4 L1230.6,336.9 L1257.8,327.5 L1283.0,316.0 L1310.2,304.4 L1335.4,295.0 L1348.0,290.8 L1368.9,281.4 L1385.7,273.0 L1402.5,266.7 L1419.3,261.5 L1436.0,255.2 L1446.5,249.9 L1461.2,242.6 L1478.0,234.2 L1492.6,225.8 L1509.4,216.4 L1524.1,207.0 L1542.9,195.0"/></g><g clip-path="url(#cc13)"><path d="M1157.2,357.5 L1153.0,359.0 L1125.8,369.4 L1104.8,377.8 L1085.9,384.7 L1069.2,390.4 L1056.6,396.7 L1044.0,401.9 L1031.4,407.8 M1542.9,513.0 L1540.0,515.1 L1524.1,527.7 L1509.4,540.3 L1498.9,552.9 L1488.4,567.5 L1482.1,575.9 L1473.8,588.5 L1466.4,599.0 L1457.0,608.4 L1450.7,615.7 L1447.6,623.1"/></g><g clip-path="url(#cc14)"><path d="M558.2,585.3 L560.0,584.9 L569.0,583.1 L581.6,579.6 L596.0,573.3 L610.4,567.0 L628.4,559.8 L646.4,554.4 L668.0,549.0 L686.0,544.5 L704.0,539.1 L722.0,533.7 L732.8,530.1 L749.0,524.7 L758.0,521.1 L772.4,513.9 L788.5,507.6 L802.9,504.9 L815.5,501.3 L826.3,496.8 L835.3,492.3 L847.9,486.0 L865.9,477.9 L880.3,472.5 L898.3,463.5 L916.3,455.4 L934.3,447.3 L946.9,441.0 L959.5,434.7 L970.3,431.1 L980.2,427.5"/></g><g clip-path="url(#cc15)"><path d="M185.9,96.8 L188.1,99.0 L196.0,106.9 L207.2,117.0 L216.2,135.0 M250.0,177.7 L259.0,189.0 L265.7,198.0 L277.0,208.1 L283.7,216.0 L284.8,225.0 L282.6,233.9 L281.5,240.7 L283.7,251.9 L289.3,263.2 L296.1,273.3 L303.9,290.2 L309.6,298.0 L317.4,304.8 L327.6,310.4 L335.4,316.0 L341.1,322.8 L335.4,327.3 L327.6,332.9 L317.4,335.2 L294.9,337.9 L277.0,339.7 L265.7,340.1 L250.0,337.9 L238.7,337.0 L223.0,335.2 L196.0,335.2 L182.5,337.9 L160.0,339.2 L157.8,339.2"/></g><g clip-path="url(#cc16)"><path d="M733.8,100.8 L736.0,101.2 L749.5,104.6 L769.7,109.1 L790.0,115.9 L814.7,121.5 L837.2,126.0 L859.7,130.5 L882.2,133.2 L904.7,135.0 L927.2,137.2 L949.7,139.0 L967.7,140.2 L981.2,140.6 L994.6,140.2 L1005.9,139.0 L1017.1,137.9 L1039.6,137.2"/></g><g clip-path="url(#cc17)"><path d="M158.4,704.0 L160.0,703.6 L175.6,699.7 L188.0,695.0 L206.7,690.3 L225.4,685.7 L237.9,683.3 L259.6,678.7 L278.3,675.5 L293.9,671.2 L306.4,667.0 L315.7,664.6 L331.3,661.5 L343.7,658.4 L353.1,656.9 L370.2,652.2 L390.4,646.7 L402.9,642.1 L415.4,636.6 L427.8,629.6 L440.3,622.6 L449.6,617.2 L462.1,612.5 L474.5,609.4 L487.0,605.5 L502.5,600.0 L518.1,594.6 L533.7,589.1 L546.1,586.8 L561.7,584.9"/></g><g clip-path="url(#cc18)"><path d="M698.1,1058.6 L700.0,1057.6 L711.6,1052.8 L725.2,1046.0 L738.8,1039.2 L752.3,1032.5 L771.7,1026.6 L793.0,1020.8 L806.6,1014.0 L824.0,999.5 L839.5,988.9 L857.0,978.6 L874.4,973.0 L893.8,969.5 L913.1,959.8 L932.5,950.1 L957.7,933.6 L975.1,923.0 L986.8,914.3 L1000.3,905.5 L1017.8,894.9 L1029.4,891.0 L1048.8,889.1 L1062.3,888.1 L1075.9,891.0 L1087.5,895.8 L1093.3,901.7 L1092.4,911.3 L1095.3,913.9 L1103.0,915.2 L1108.8,915.2 L1105.9,906.5 L1102.1,898.8 L1103.0,889.1 L1108.8,881.3 L1116.6,876.5 L1126.3,869.7 L1136.0,864.8 L1147.6,863.5 L1152.4,860.0 L1155.3,858.1"/></g><g clip-path="url(#cc19)"><path d="M514.3,1143.0 L517.4,1140.1 L526.8,1132.5 L539.4,1126.2 L543.6,1125.2 L562.5,1118.9 L587.6,1108.4 L602.3,1095.8 L621.2,1085.3 L631.7,1082.2 L646.3,1075.9 L669.4,1064.4 L679.9,1062.3 L692.5,1059.1 L702.9,1057.0"/></g><g clip-path="url(#cc20)"><path d="M157.9,1248.0 L160.0,1246.9 L178.9,1238.1 L203.0,1238.1 L214.5,1232.2 L227.1,1228.5 L239.7,1225.5 L248.0,1225.5 L262.7,1223.2 L271.1,1220.7 L283.7,1213.8 L296.3,1211.3 L310.9,1203.9 L323.5,1199.7 L334.0,1198.7 L340.3,1199.7 L352.9,1199.7 L367.5,1195.6 L390.6,1188.8 L401.1,1185.7 L419.9,1177.1 L432.5,1173.5 L451.4,1173.1 L468.2,1166.8 L482.8,1157.2 L499.6,1149.4 L516.4,1141.0 L520.6,1137.9 M644.2,1401.0 L648.4,1397.8 L663.1,1387.4 L675.7,1377.9 L688.3,1370.6 L700.0,1360.1 L702.9,1358.0"/></g><g clip-path="url(#cc21)"><path d="M697.9,1361.8 L700.0,1360.1 L710.5,1352.8 M754.5,1316.1 L762.9,1310.8 L775.5,1303.5 L788.0,1296.2 L800.6,1288.8 L813.2,1280.5 L825.8,1273.1 L838.4,1265.8 L850.9,1259.9 L863.5,1255.7 L876.1,1251.1 L888.7,1245.4 L901.2,1237.5 L907.5,1233.3 L915.9,1224.9 L925.3,1212.3 L936.9,1205.0 L951.6,1196.6 L968.3,1184.4 L978.8,1174.6 L987.2,1166.2 L997.7,1159.9 L1008.2,1155.7 L1020.7,1153.6 L1031.2,1155.1 L1037.5,1161.0 L1041.7,1167.3 L1045.9,1173.5 L1052.2,1177.3 L1068.9,1180.2 L1077.3,1177.7 L1085.7,1174.0 L1094.1,1172.5 L1104.6,1176.7 L1110.9,1181.9 L1110.5,1190.3 L1108.8,1198.7 L1110.9,1202.9 L1117.2,1203.9 L1123.4,1200.8 L1129.7,1191.4 L1137.1,1181.9 L1136.0,1176.7 L1128.7,1174.6 L1127.6,1161.0 L1131.8,1152.6 L1138.1,1145.2 L1146.5,1137.9 M1105.6,1397.8 L1108.8,1392.6 L1121.4,1389.9 L1138.1,1388.4 L1154.9,1384.2 L1167.5,1379.0 L1180.0,1372.7 L1192.6,1368.5 L1209.4,1362.2 L1217.8,1361.2 L1230.4,1359.1 L1242.9,1359.7"/></g><g clip-path="url(#cc22)"><path d="M1160.0,1124.2 L1173.2,1114.2 L1188.7,1102.1 L1204.2,1093.2 L1226.2,1081.1 L1230.7,1077.8 M1157.8,1384.7 L1160.0,1383.6 L1179.9,1373.7 L1195.3,1368.1 L1211.9,1361.5 L1230.7,1358.7 L1239.5,1360.4 L1243.9,1363.7 L1248.3,1363.7 M1296.9,1348.9 L1301.3,1342.8 L1304.6,1332.8 L1316.8,1329.1 L1325.6,1331.7 L1332.2,1337.2 L1336.6,1343.9 L1343.3,1345.0 L1349.9,1343.9 L1355.4,1337.2 L1355.4,1330.6 L1367.6,1322.9 L1374.2,1321.8 L1385.2,1316.3 L1394.0,1309.6 L1398.5,1305.2 L1396.3,1311.8 L1391.8,1318.5 L1387.4,1325.1 L1380.8,1330.6 L1372.0,1333.9 L1366.4,1340.5 L1364.2,1347.2 L1364.2,1360.4 L1362.0,1371.5 L1358.7,1380.3 L1355.4,1386.9 L1356.5,1393.5 L1363.1,1398.0 L1372.0,1401.3 M1394.0,1282.0 L1398.5,1278.7 L1413.9,1277.0 L1425.0,1275.4 L1438.2,1268.8 L1447.0,1265.0 L1453.7,1263.3 L1462.5,1267.7 L1463.6,1276.5 L1460.3,1286.4 L1459.2,1294.2 L1453.7,1298.6 L1447.0,1300.8 L1440.4,1299.7"/></g></g><g fill="#808080" font-family="Liberation Sans" font-size="17"><text x="2236.6" y="340.7" transform="rotate(40 2236.6 334.7)" text-anchor="middle" textLength="42.4" lengthAdjust="spacingAndGlyphs">1020</text><text x="1803.0" y="460.4" transform="rotate(10 1803.0 454.4)" text-anchor="middle" textLength="42.4" lengthAdjust="spacingAndGlyphs">1020</text><text x="2070.2" y="496.5" transform="rotate(-12 2070.2 490.5)" text-anchor="middle" textLength="42.4" lengthAdjust="spacingAndGlyphs">1020</text><text x="2151.2" y="789.8" transform="rotate(-12 2151.2 783.8)" text-anchor="middle" textLength="42.4" lengthAdjust="spacingAndGlyphs">1020</text><text x="2226.7" y="868.0" transform="rotate(22 2226.7 862.0)" text-anchor="middle" textLength="42.4" lengthAdjust="spacingAndGlyphs">1020</text><text x="1674.0" y="1038.9" transform="rotate(-68 1674.0 1032.9)" text-anchor="middle" textLength="42.4" lengthAdjust="spacingAndGlyphs">1020</text><text x="2421.5" y="1391.3" transform="rotate(22 2421.5 1385.3)" text-anchor="middle" textLength="42.4" lengthAdjust="spacingAndGlyphs">1012</text><text x="1309.8" y="738.8" transform="rotate(-36 1309.8 732.8)" text-anchor="middle" textLength="42.4" lengthAdjust="spacingAndGlyphs">1020</text><text x="1007.0" y="422.0" transform="rotate(-22 1007.0 416.0)" text-anchor="middle" textLength="42.4" lengthAdjust="spacingAndGlyphs">1020</text><text x="230.2" y="165.3" transform="rotate(53 230.2 159.3)" text-anchor="middle" textLength="42.4" lengthAdjust="spacingAndGlyphs">1020</text><text x="731.4" y="1338.9" transform="rotate(-40 731.4 1332.9)" text-anchor="middle" textLength="42.4" lengthAdjust="spacingAndGlyphs">1016</text><text x="1080.5" y="1403.4" transform="rotate(-8 1080.5 1397.4)" text-anchor="middle" textLength="42.4" lengthAdjust="spacingAndGlyphs">1012</text><text x="1273.7" y="1369.7" transform="rotate(-12 1273.7 1363.7)" text-anchor="middle" textLength="42.4" lengthAdjust="spacingAndGlyphs">1012</text><text x="1417.2" y="1305.7" transform="rotate(22 1417.2 1299.7)" text-anchor="middle" textLength="42.4" lengthAdjust="spacingAndGlyphs">1012</text></g><g stroke="#b0b0b0" stroke-width="1.7" fill="none"><line x1="732.9" y1="99.0" x2="732.9" y2="1398.9"/><line x1="1310.9" y1="99.0" x2="1310.9" y2="1398.9"/><line x1="1889.9" y1="99.0" x2="1889.9" y2="1398.9"/><line x1="160.0" y1="422.1" x2="2463.0" y2="422.1"/><line x1="160.0" y1="752.1" x2="2463.0" y2="752.1"/><line x1="160.0" y1="1076.1" x2="2463.0" y2="1076.1"/></g></g><rect x="160.0" y="99.0" width="2303.0" height="1299.9" fill="none" stroke="#000" stroke-width="1.8"/><rect x="2466.0" y="97.30" width="32.0" height="217.4" fill="#800080"/><rect x="2466.0" y="314.55" width="32.0" height="217.4" fill="#cc0033"/><rect x="2466.0" y="531.80" width="32.0" height="217.4" fill="#ff3300"/><rect x="2466.0" y="749.05" width="32.0" height="217.4" fill="#ffcc00"/><rect x="2466.0" y="966.30" width="32.0" height="217.4" fill="#99cc00"/><rect x="2466.0" y="1183.55" width="32.0" height="217.4" fill="#008000"/><line x1="2466.0" y1="314.55" x2="2498.0" y2="314.55" stroke="#000" stroke-width="1.6"/><line x1="2466.0" y1="531.80" x2="2498.0" y2="531.80" stroke="#000" stroke-width="1.6"/><line x1="2466.0" y1="749.05" x2="2498.0" y2="749.05" stroke="#000" stroke-width="1.6"/><line x1="2466.0" y1="966.30" x2="2498.0" y2="966.30" stroke="#000" stroke-width="1.6"/><line x1="2466.0" y1="1183.55" x2="2498.0" y2="1183.55" stroke="#000" stroke-width="1.6"/><g stroke="#000" stroke-width="1.8"><line x1="160.0" y1="1398.9" x2="160.0" y2="1406.1"/><line x1="732.9" y1="1398.9" x2="732.9" y2="1406.1"/><line x1="1310.9" y1="1398.9" x2="1310.9" y2="1406.1"/><line x1="1889.9" y1="1398.9" x2="1889.9" y2="1406.1"/><line x1="2463.0" y1="1398.9" x2="2463.0" y2="1406.1"/><line x1="152.8" y1="99.0" x2="160.0" y2="99.0"/><line x1="152.8" y1="422.1" x2="160.0" y2="422.1"/><line x1="152.8" y1="752.1" x2="160.0" y2="752.1"/><line x1="152.8" y1="1076.1" x2="160.0" y2="1076.1"/><line x1="152.8" y1="1398.9" x2="160.0" y2="1398.9"/><line x1="2498.0" y1="97.30" x2="2505.2" y2="97.30"/><line x1="2498.0" y1="314.55" x2="2505.2" y2="314.55"/><line x1="2498.0" y1="531.80" x2="2505.2" y2="531.80"/><line x1="2498.0" y1="749.05" x2="2505.2" y2="749.05"/><line x1="2498.0" y1="966.30" x2="2505.2" y2="966.30"/><line x1="2498.0" y1="1183.55" x2="2505.2" y2="1183.55"/><line x1="2498.0" y1="1400.80" x2="2505.2" y2="1400.80"/></g><g fill="#000"><text x="16.60" y="113.00" font-family="Liberation Sans" font-size="41.00" font-weight="normal" textLength="128.93" lengthAdjust="spacingAndGlyphs">45.9°N</text><text x="16.60" y="436.42" font-family="Liberation Sans" font-size="41.00" font-weight="normal" textLength="128.93" lengthAdjust="spacingAndGlyphs">40.7°N</text><text x="16.20" y="766.06" font-family="Liberation Sans" font-size="41.00" font-weight="normal" textLength="129.42" lengthAdjust="spacingAndGlyphs">35.4°N</text><text x="16.20" y="1089.48" font-family="Liberation Sans" font-size="41.00" font-weight="normal" textLength="129.42" lengthAdjust="spacingAndGlyphs">30.2°N</text><text x="51.68" y="1412.90" font-family="Liberation Sans" font-size="41.00" font-weight="normal" textLength="93.52" lengthAdjust="spacingAndGlyphs">25°N</text><text x="109.76" y="1442.00" font-family="Liberation Sans" font-size="41.00" font-weight="normal" textLength="101.46" lengthAdjust="spacingAndGlyphs">32°W</text><text x="664.05" y="1442.00" font-family="Liberation Sans" font-size="41.00" font-weight="normal" textLength="136.83" lengthAdjust="spacingAndGlyphs">22.8°W</text><text x="1242.62" y="1442.00" font-family="Liberation Sans" font-size="41.00" font-weight="normal" textLength="137.48" lengthAdjust="spacingAndGlyphs">13.5°W</text><text x="1833.57" y="1442.00" font-family="Liberation Sans" font-size="41.00" font-weight="normal" textLength="113.42" lengthAdjust="spacingAndGlyphs">4.2°W</text><text x="2430.49" y="1442.00" font-family="Liberation Sans" font-size="41.00" font-weight="normal" textLength="65.30" lengthAdjust="spacingAndGlyphs">5°E</text><text x="2513.00" y="111.30" font-family="Liberation Sans" font-size="41.00" font-weight="normal" textLength="81.28" lengthAdjust="spacingAndGlyphs">40.0</text><text x="2512.40" y="328.55" font-family="Liberation Sans" font-size="41.00" font-weight="normal" textLength="82.03" lengthAdjust="spacingAndGlyphs">20.0</text><text x="2512.80" y="545.80" font-family="Liberation Sans" font-size="41.00" font-weight="normal" textLength="81.72" lengthAdjust="spacingAndGlyphs">10.0</text><text x="2512.60" y="763.05" font-family="Liberation Sans" font-size="41.00" font-weight="normal" textLength="57.99" lengthAdjust="spacingAndGlyphs">5.0</text><text x="2512.80" y="980.30" font-family="Liberation Sans" font-size="41.00" font-weight="normal" textLength="58.00" lengthAdjust="spacingAndGlyphs">1.0</text><text x="2512.20" y="1197.55" font-family="Liberation Sans" font-size="41.00" font-weight="normal" textLength="57.69" lengthAdjust="spacingAndGlyphs">0.5</text><text x="2512.20" y="1414.80" font-family="Liberation Sans" font-size="41.00" font-weight="normal" textLength="57.47" lengthAdjust="spacingAndGlyphs">0.1</text><text x="159.60" y="44.80" font-family="Liberation Mono" font-size="41.43" font-weight="bold" textLength="608.73" lengthAdjust="spacingAndGlyphs">Hourly precipitation (mm/h)</text><text x="160.60" y="86.80" font-family="Liberation Mono" font-size="41.43" font-weight="bold" textLength="247.07" lengthAdjust="spacingAndGlyphs">ARPEGE 0.1º</text><text x="1209.63" y="86.80" font-family="Liberation Mono" font-size="41.43" font-weight="bold" textLength="202.47" lengthAdjust="spacingAndGlyphs">+53 hours</text><text x="2011.21" y="44.80" font-family="Liberation Mono" font-size="41.43" font-weight="bold" textLength="451.43" lengthAdjust="spacingAndGlyphs">Run 2026-04-14 T 18Z</text><text x="1672.72" y="86.80" font-family="Liberation Mono" font-size="41.43" font-weight="bold" textLength="789.63" lengthAdjust="spacingAndGlyphs">Forecast: Thursday 2026-04-16 T 23Z</text></g><rect x="391.6" y="76" width="12.6" height="2.8" fill="#000"/></svg></body></html>
